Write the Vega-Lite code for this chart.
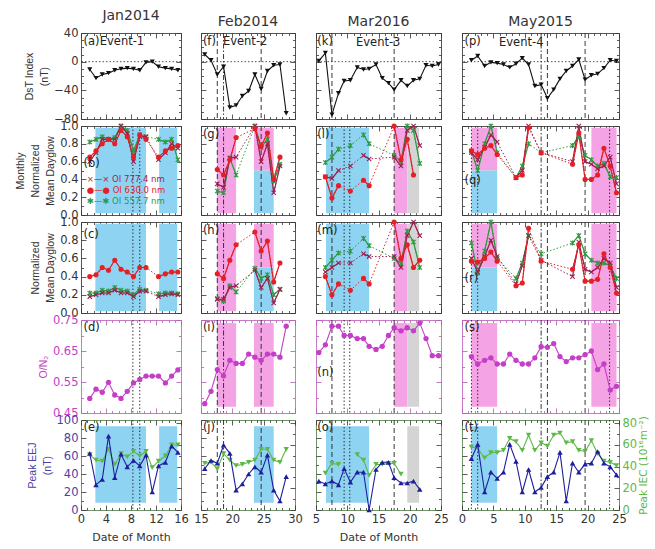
{
  "$schema": "https://vega.github.io/schema/vega-lite/v6.json",
  "background": "white",
  "padding": {"left": 15, "top": 8, "right": 2, "bottom": 5},
  "config": {
    "font": "DejaVu Sans",
    "view": {"stroke": "#555555", "strokeWidth": 1},
    "legend": {"disable": true},
    "scale": {"zero": false},
    "axis": {"domain": false, "grid": false, "labels": false, "tickColor": "#333333", "tickWidth": 0.8, "labelFont": "DejaVu Sans", "labelFontSize": 11.5, "labelColor": "#333333", "labelPadding": 8, "labelFlush": false, "labelOverlap": false, "titleFont": "Liberation Sans", "titleFontSize": 10.5, "titleLineHeight": 15, "titleFontWeight": "normal", "titleColor": "#333333", "titlePadding": 4},
    "title": {"font": "DejaVu Sans", "fontSize": 14, "fontWeight": "normal", "color": "#333333", "anchor": "middle", "frame": "group", "offset": 4},
    "text": {"font": "DejaVu Sans"}
  },
  "spacing": 8,
  "hconcat": [
    {
      "spacing": 4,
      "hconcat": [
        {
          "spacing": 7,
          "bounds": "flush",
          "vconcat": [
            {
              "title": {"text": "Jan2014"},
              "width": 100, "height": 86,
              "data": {"values": [{"day":1.4,"val":-11},{"day":2.4,"val":-23},{"day":3.4,"val":-18},{"day":4.4,"val":-16},{"day":5.4,"val":-12},{"day":6.4,"val":-10},{"day":7.4,"val":-9},{"day":8.4,"val":-10},{"day":9.4,"val":-12},{"day":10.4,"val":-1},{"day":11.4,"val":0},{"day":12.4,"val":-7},{"day":13.5,"val":-9},{"day":14.5,"val":-10},{"day":15.5,"val":-12}]},
              "layer": [
                {"data": {"values": [{"val": 0}]}, "mark": {"type": "rule", "strokeDash": [1.5, 2], "color": "#222222", "strokeWidth": 0.8}, "encoding": {"y": {"field": "val", "type": "quantitative", "axis": null}}},
                {"mark": {"type": "line", "color": "#111111", "strokeWidth": 1.1}, "encoding": {
                  "x": {"field": "day", "type": "quantitative", "scale": {"domain": [0, 16], "nice": false}, "axis": {"orient": "bottom", "values": [0,1,2,3,4,5,6,7,8,9,10,11,12,13,14,15,16], "tickSize": {"condition": {"test": "datum.value % 4 === 0", "value": -5}, "value": -2.5}, "title": null}},
                  "y": {"field": "val", "type": "quantitative", "scale": {"domain": [-80, 40], "nice": false}, "axis": {"orient": "left", "values": [-80,-70,-60,-50,-40,-30,-20,-10,0,10,20,30,40], "tickSize": {"condition": {"test": "datum.value % 40 === 0", "value": -5}, "value": -2.5}, "labels": true, "labelExpr": "datum.value % 40 === 0 ? datum.label : ''", "title": ["DsT Index", "(nT)"]}}}},
                {"mark": {"type": "point", "shape": "triangle-down", "filled": true, "color": "#111111", "size": 26, "opacity": 1}, "encoding": {
                  "x": {"field": "day", "type": "quantitative", "axis": {"orient": "top", "values": [0,1,2,3,4,5,6,7,8,9,10,11,12,13,14,15,16], "tickSize": {"condition": {"test": "datum.value % 4 === 0", "value": -5}, "value": -2.5}, "title": null}},
                  "y": {"field": "val", "type": "quantitative", "axis": {"orient": "right", "values": [-80,-70,-60,-50,-40,-30,-20,-10,0,10,20,30,40], "tickSize": {"condition": {"test": "datum.value % 40 === 0", "value": -5}, "value": -2.5}, "title": null}}}},
                {"data": {"values": [{"day": 0.4, "val": 28, "txt": "(a)"}, {"day": 3.0, "val": 27, "txt": "Event-1"}]}, "mark": {"type": "text", "align": "left", "fontSize": 11.5, "color": "#222222"}, "encoding": {"x": {"field": "day", "type": "quantitative", "axis": null}, "y": {"field": "val", "type": "quantitative", "axis": null}, "text": {"field": "txt"}}}
              ],
              "resolve": {"axis": {"x": "independent", "y": "independent"}}
            },
            {
              "width": 100, "height": 89,
              "data": {"values": [
                {"day":1.4,"val":0.82,"s":"557","g":1},{"day":2.4,"val":0.85,"s":"557","g":1},{"day":3.4,"val":0.88,"s":"557","g":1},{"day":4.4,"val":0.85,"s":"557","g":1},{"day":5.4,"val":0.87,"s":"557","g":1},{"day":6.4,"val":1.0,"s":"557","g":1},{"day":7.4,"val":0.95,"s":"557","g":1},{"day":8.4,"val":0.72,"s":"557","g":1},{"day":9.4,"val":0.9,"s":"557","g":1},{"day":10.4,"val":0.88,"s":"557","g":1},{"day":12.4,"val":0.85,"s":"557","g":2},{"day":13.5,"val":0.82,"s":"557","g":2},{"day":14.5,"val":0.85,"s":"557","g":2},{"day":15.5,"val":0.62,"s":"557","g":2},
                {"day":1.4,"val":0.6,"s":"777","g":1},{"day":2.4,"val":0.7,"s":"777","g":1},{"day":3.4,"val":0.85,"s":"777","g":1},{"day":4.4,"val":0.85,"s":"777","g":1},{"day":5.4,"val":0.85,"s":"777","g":1},{"day":6.4,"val":1.0,"s":"777","g":1},{"day":7.4,"val":0.92,"s":"777","g":1},{"day":8.4,"val":0.6,"s":"777","g":1},{"day":9.4,"val":0.88,"s":"777","g":1},{"day":10.4,"val":0.88,"s":"777","g":1},{"day":12.4,"val":0.62,"s":"777","g":2},{"day":13.5,"val":0.7,"s":"777","g":2},{"day":14.5,"val":0.8,"s":"777","g":2},{"day":15.5,"val":0.75,"s":"777","g":2},
                {"day":1.4,"val":0.65,"s":"630","g":1},{"day":2.4,"val":0.72,"s":"630","g":1},{"day":3.4,"val":0.8,"s":"630","g":1},{"day":4.4,"val":0.85,"s":"630","g":1},{"day":5.4,"val":0.8,"s":"630","g":1},{"day":6.4,"val":0.95,"s":"630","g":1},{"day":7.4,"val":0.88,"s":"630","g":1},{"day":8.4,"val":0.65,"s":"630","g":1},{"day":9.4,"val":0.9,"s":"630","g":1},{"day":10.4,"val":0.85,"s":"630","g":1},{"day":12.4,"val":0.65,"s":"630","g":2},{"day":13.5,"val":0.72,"s":"630","g":2},{"day":14.5,"val":0.75,"s":"630","g":2},{"day":15.5,"val":0.78,"s":"630","g":2}
              ]},
              "layer": [
                {"data": {"values": [{"x0":2.3,"x1":10.4,"y0":0.02,"y1":0.98,"b":"band1"},{"x0":12.5,"x1":15.4,"y0":0.02,"y1":0.98,"b":"band1"}]}, "mark": "rect", "encoding": {"x": {"field": "x0", "type": "quantitative", "axis": null}, "x2": {"field": "x1"}, "y": {"field": "y0", "type": "quantitative", "axis": null}, "y2": {"field": "y1"}, "color": {"field": "b", "type": "nominal", "scale": {"domain": ["777","630","557","band1","band2","band3"], "range": ["#9c1f4f","#e41f26","#2e9a3e","#8fd3f3","#f4a3e4","#d4d4d4"]}}}},
                {"data": {"values": [{"day":8.3,"k":"dot"},{"day":9.4,"k":"dot"}]}, "mark": {"type": "rule", "color": "#222222", "strokeWidth": 0.9}, "encoding": {"x": {"field": "day", "type": "quantitative", "axis": null}, "strokeDash": {"field": "k", "type": "nominal", "scale": {"domain": ["dot","dash","dashdot"], "range": [[1.5,2],[5,3],[5,2,1.5,2]]}}}},
                {"mark": {"type": "line", "strokeDash": [1.5, 2], "strokeWidth": 1}, "encoding": {"x": {"field": "day", "type": "quantitative", "axis": null}, "y": {"field": "val", "type": "quantitative", "axis": null}, "color": {"field": "s", "type": "nominal", "scale": {"domain": ["777","630","557","band1","band2","band3"], "range": ["#9c1f4f","#e41f26","#2e9a3e","#8fd3f3","#f4a3e4","#d4d4d4"]}}}},
                {"mark": {"type": "line", "strokeWidth": 1.2}, "encoding": {
                  "x": {"field": "day", "type": "quantitative", "scale": {"domain": [0, 16], "nice": false}, "axis": {"orient": "bottom", "values": [0,1,2,3,4,5,6,7,8,9,10,11,12,13,14,15,16], "tickSize": {"condition": {"test": "datum.value % 4 === 0", "value": -5}, "value": -2.5}, "title": null}},
                  "y": {"field": "val", "type": "quantitative", "scale": {"domain": [0, 1], "nice": false}, "axis": {"orient": "left", "values": [0,0.1,0.2,0.3,0.4,0.5,0.6,0.7,0.8,0.9,1], "tickSize": {"condition": {"test": "round(datum.value*10) % 2 === 0", "value": -5}, "value": -2.5}, "labels": true, "labelExpr": "round(datum.value*10) % 2 === 0 ? format(datum.value, '.1f') : ''", "title": ["Monthly", "Normalized", "Mean Dayglow"]}},
                  "color": {"field": "s", "type": "nominal", "scale": {"domain": ["777","630","557","band1","band2","band3"], "range": ["#9c1f4f","#e41f26","#2e9a3e","#8fd3f3","#f4a3e4","#d4d4d4"]}},
                  "detail": {"field": "g", "type": "nominal"}}},
                {"mark": {"type": "point", "filled": true, "size": 26, "opacity": 1}, "encoding": {
                  "x": {"field": "day", "type": "quantitative", "axis": {"orient": "top", "values": [0,1,2,3,4,5,6,7,8,9,10,11,12,13,14,15,16], "tickSize": {"condition": {"test": "datum.value % 4 === 0", "value": -5}, "value": -2.5}, "title": null}},
                  "y": {"field": "val", "type": "quantitative", "axis": {"orient": "right", "values": [0,0.1,0.2,0.3,0.4,0.5,0.6,0.7,0.8,0.9,1], "tickSize": {"condition": {"test": "round(datum.value*10) % 2 === 0", "value": -5}, "value": -2.5}, "title": null}},
                  "color": {"field": "s", "type": "nominal", "scale": {"domain": ["777","630","557","band1","band2","band3"], "range": ["#9c1f4f","#e41f26","#2e9a3e","#8fd3f3","#f4a3e4","#d4d4d4"]}},
                  "shape": {"field": "s", "type": "nominal", "scale": {"domain": ["777","630","557"], "range": ["M-1,-0.7L-0.7,-1L0,-0.3L0.7,-1L1,-0.7L0.3,0L1,0.7L0.7,1L0,0.3L-0.7,1L-1,0.7L-0.3,0Z", "circle", "M-1,-0.7L-0.7,-1L0,-0.3L0.7,-1L1,-0.7L0.3,0L1,0.7L0.7,1L0,0.3L-0.7,1L-1,0.7L-0.3,0Z M-0.22,-1L0.22,-1L0.22,1L-0.22,1Z"]}}}},
                {"data": {"values": [{"day": 0.4, "val": 0.57, "txt": "(b)"}]}, "mark": {"type": "text", "align": "left", "fontSize": 11.5, "color": "#222222"}, "encoding": {"x": {"field": "day", "type": "quantitative", "axis": null}, "y": {"field": "val", "type": "quantitative", "axis": null}, "text": {"field": "txt"}}},
                {"data": {"values": [{"day": 0.9, "val": 0.4, "s": "777", "txt": "×—× OI 777.4  nm"}, {"day": 0.9, "val": 0.28, "s": "630", "txt": "●—● OI 630.0  nm"}, {"day": 0.9, "val": 0.16, "s": "557", "txt": "✱—✱ OI 557.7  nm"}]}, "mark": {"type": "text", "align": "left", "fontSize": 8.5}, "encoding": {"x": {"field": "day", "type": "quantitative", "axis": null}, "y": {"field": "val", "type": "quantitative", "axis": null}, "text": {"field": "txt"}, "color": {"field": "s", "type": "nominal", "scale": {"domain": ["777","630","557","band1","band2","band3"], "range": ["#9c1f4f","#e41f26","#2e9a3e","#8fd3f3","#f4a3e4","#d4d4d4"]}}}}
              ],
              "resolve": {"axis": {"x": "independent", "y": "independent"}}
            },
            {
              "width": 100, "height": 91,
              "data": {"values": [
                {"day":1.4,"val":0.22,"s":"557","g":1},{"day":2.4,"val":0.22,"s":"557","g":1},{"day":3.4,"val":0.25,"s":"557","g":1},{"day":4.4,"val":0.24,"s":"557","g":1},{"day":5.4,"val":0.28,"s":"557","g":1},{"day":6.4,"val":0.25,"s":"557","g":1},{"day":7.4,"val":0.24,"s":"557","g":1},{"day":8.4,"val":0.2,"s":"557","g":1},{"day":9.4,"val":0.26,"s":"557","g":1},{"day":10.4,"val":0.25,"s":"557","g":1},{"day":12.4,"val":0.21,"s":"557","g":2},{"day":13.5,"val":0.22,"s":"557","g":2},{"day":14.5,"val":0.22,"s":"557","g":2},{"day":15.5,"val":0.21,"s":"557","g":2},
                {"day":1.4,"val":0.18,"s":"777","g":1},{"day":2.4,"val":0.2,"s":"777","g":1},{"day":3.4,"val":0.22,"s":"777","g":1},{"day":4.4,"val":0.22,"s":"777","g":1},{"day":5.4,"val":0.25,"s":"777","g":1},{"day":6.4,"val":0.22,"s":"777","g":1},{"day":7.4,"val":0.22,"s":"777","g":1},{"day":8.4,"val":0.18,"s":"777","g":1},{"day":9.4,"val":0.24,"s":"777","g":1},{"day":10.4,"val":0.24,"s":"777","g":1},{"day":12.4,"val":0.18,"s":"777","g":2},{"day":13.5,"val":0.2,"s":"777","g":2},{"day":14.5,"val":0.21,"s":"777","g":2},{"day":15.5,"val":0.2,"s":"777","g":2},
                {"day":1.4,"val":0.4,"s":"630","g":1},{"day":2.4,"val":0.42,"s":"630","g":1},{"day":3.4,"val":0.5,"s":"630","g":1},{"day":4.4,"val":0.47,"s":"630","g":1},{"day":5.4,"val":0.58,"s":"630","g":1},{"day":6.4,"val":0.48,"s":"630","g":1},{"day":7.4,"val":0.45,"s":"630","g":1},{"day":8.4,"val":0.4,"s":"630","g":1},{"day":9.4,"val":0.5,"s":"630","g":1},{"day":10.4,"val":0.5,"s":"630","g":1},{"day":12.4,"val":0.4,"s":"630","g":2},{"day":13.5,"val":0.43,"s":"630","g":2},{"day":14.5,"val":0.45,"s":"630","g":2},{"day":15.5,"val":0.45,"s":"630","g":2}
              ]},
              "layer": [
                {"data": {"values": [{"x0":2.3,"x1":10.4,"y0":0.02,"y1":0.98,"b":"band1"},{"x0":12.5,"x1":15.4,"y0":0.02,"y1":0.98,"b":"band1"}]}, "mark": "rect", "encoding": {"x": {"field": "x0", "type": "quantitative", "axis": null}, "x2": {"field": "x1"}, "y": {"field": "y0", "type": "quantitative", "axis": null}, "y2": {"field": "y1"}, "color": {"field": "b", "type": "nominal", "scale": {"domain": ["777","630","557","band1","band2","band3"], "range": ["#9c1f4f","#e41f26","#2e9a3e","#8fd3f3","#f4a3e4","#d4d4d4"]}}}},
                {"data": {"values": [{"day":8.3,"k":"dot"},{"day":9.4,"k":"dot"}]}, "mark": {"type": "rule", "color": "#222222", "strokeWidth": 0.9}, "encoding": {"x": {"field": "day", "type": "quantitative", "axis": null}, "strokeDash": {"field": "k", "type": "nominal", "scale": {"domain": ["dot","dash","dashdot"], "range": [[1.5,2],[5,3],[5,2,1.5,2]]}}}},
                {"mark": {"type": "line", "strokeDash": [1.5, 2], "strokeWidth": 1}, "encoding": {"x": {"field": "day", "type": "quantitative", "axis": null}, "y": {"field": "val", "type": "quantitative", "axis": null}, "color": {"field": "s", "type": "nominal", "scale": {"domain": ["777","630","557","band1","band2","band3"], "range": ["#9c1f4f","#e41f26","#2e9a3e","#8fd3f3","#f4a3e4","#d4d4d4"]}}}},
                {"mark": {"type": "line", "strokeWidth": 1.2}, "encoding": {
                  "x": {"field": "day", "type": "quantitative", "scale": {"domain": [0, 16], "nice": false}, "axis": {"orient": "bottom", "values": [0,1,2,3,4,5,6,7,8,9,10,11,12,13,14,15,16], "tickSize": {"condition": {"test": "datum.value % 4 === 0", "value": -5}, "value": -2.5}, "title": null}},
                  "y": {"field": "val", "type": "quantitative", "scale": {"domain": [0, 1], "nice": false}, "axis": {"orient": "left", "values": [0,0.1,0.2,0.3,0.4,0.5,0.6,0.7,0.8,0.9,1], "tickSize": {"condition": {"test": "round(datum.value*10) % 2 === 0", "value": -5}, "value": -2.5}, "labels": true, "labelExpr": "round(datum.value*10) % 2 === 0 ? format(datum.value, '.1f') : ''", "title": ["Normalized", "Mean Dayglow"]}},
                  "color": {"field": "s", "type": "nominal", "scale": {"domain": ["777","630","557","band1","band2","band3"], "range": ["#9c1f4f","#e41f26","#2e9a3e","#8fd3f3","#f4a3e4","#d4d4d4"]}},
                  "detail": {"field": "g", "type": "nominal"}}},
                {"mark": {"type": "point", "filled": true, "size": 26, "opacity": 1}, "encoding": {
                  "x": {"field": "day", "type": "quantitative", "axis": {"orient": "top", "values": [0,1,2,3,4,5,6,7,8,9,10,11,12,13,14,15,16], "tickSize": {"condition": {"test": "datum.value % 4 === 0", "value": -5}, "value": -2.5}, "title": null}},
                  "y": {"field": "val", "type": "quantitative", "axis": {"orient": "right", "values": [0,0.1,0.2,0.3,0.4,0.5,0.6,0.7,0.8,0.9,1], "tickSize": {"condition": {"test": "round(datum.value*10) % 2 === 0", "value": -5}, "value": -2.5}, "title": null}},
                  "color": {"field": "s", "type": "nominal", "scale": {"domain": ["777","630","557","band1","band2","band3"], "range": ["#9c1f4f","#e41f26","#2e9a3e","#8fd3f3","#f4a3e4","#d4d4d4"]}},
                  "shape": {"field": "s", "type": "nominal", "scale": {"domain": ["777","630","557"], "range": ["M-1,-0.7L-0.7,-1L0,-0.3L0.7,-1L1,-0.7L0.3,0L1,0.7L0.7,1L0,0.3L-0.7,1L-1,0.7L-0.3,0Z", "circle", "M-1,-0.7L-0.7,-1L0,-0.3L0.7,-1L1,-0.7L0.3,0L1,0.7L0.7,1L0,0.3L-0.7,1L-1,0.7L-0.3,0Z M-0.22,-1L0.22,-1L0.22,1L-0.22,1Z"]}}}},
                {"data": {"values": [{"day": 0.4, "val": 0.86, "txt": "(c)"}]}, "mark": {"type": "text", "align": "left", "fontSize": 11.5, "color": "#222222"}, "encoding": {"x": {"field": "day", "type": "quantitative", "axis": null}, "y": {"field": "val", "type": "quantitative", "axis": null}, "text": {"field": "txt"}}}
              ],
              "resolve": {"axis": {"x": "independent", "y": "independent"}}
            },
            {
              "width": 100, "height": 93, "view": {"stroke": "#c77bc7"},
              "data": {"values": [{"day":1.4,"val":0.497},{"day":2.4,"val":0.527},{"day":3.4,"val":0.517},{"day":4.4,"val":0.549},{"day":5.4,"val":0.508},{"day":6.4,"val":0.497},{"day":7.4,"val":0.52},{"day":8.4,"val":0.547},{"day":9.4,"val":0.558},{"day":10.4,"val":0.569},{"day":11.4,"val":0.569},{"day":12.4,"val":0.569},{"day":13.5,"val":0.547},{"day":14.5,"val":0.569},{"day":15.5,"val":0.589}]},
              "layer": [
                {"data": {"values": [{"day":8.3,"k":"dot"},{"day":9.4,"k":"dot"}]}, "mark": {"type": "rule", "color": "#222222", "strokeWidth": 0.9}, "encoding": {"x": {"field": "day", "type": "quantitative", "axis": null}, "strokeDash": {"field": "k", "type": "nominal", "scale": {"domain": ["dot","dash","dashdot"], "range": [[1.5,2],[5,3],[5,2,1.5,2]]}}}},
                {"mark": {"type": "line", "color": "#c43ec8", "strokeWidth": 1.1}, "encoding": {
                  "x": {"field": "day", "type": "quantitative", "scale": {"domain": [0, 16], "nice": false}, "axis": {"orient": "bottom", "values": [0,1,2,3,4,5,6,7,8,9,10,11,12,13,14,15,16], "tickSize": {"condition": {"test": "datum.value % 4 === 0", "value": -5}, "value": -2.5}, "tickColor": "#b45ab4", "title": null}},
                  "y": {"field": "val", "type": "quantitative", "scale": {"domain": [0.45, 0.75], "nice": false}, "axis": {"orient": "left", "values": [0.45,0.5,0.55,0.6,0.65,0.7,0.75], "tickSize": {"condition": {"test": "round(datum.value*100) % 10 === 5", "value": -5}, "value": -2.5}, "labels": true, "labelExpr": "round(datum.value*100) % 10 === 5 ? format(datum.value, '.2f') : ''", "labelColor": "#c43ec8", "titleColor": "#c43ec8", "tickColor": "#b45ab4", "title": "O/N₂"}}}},
                {"mark": {"type": "point", "shape": "circle", "filled": true, "color": "#c43ec8", "size": 28, "opacity": 1}, "encoding": {
                  "x": {"field": "day", "type": "quantitative", "axis": {"orient": "top", "values": [0,1,2,3,4,5,6,7,8,9,10,11,12,13,14,15,16], "tickSize": {"condition": {"test": "datum.value % 4 === 0", "value": -5}, "value": -2.5}, "tickColor": "#b45ab4", "title": null}},
                  "y": {"field": "val", "type": "quantitative", "axis": {"orient": "right", "values": [0.45,0.5,0.55,0.6,0.65,0.7,0.75], "tickSize": {"condition": {"test": "round(datum.value*100) % 10 === 5", "value": -5}, "value": -2.5}, "tickColor": "#b45ab4", "title": null}}}},
                {"data": {"values": [{"day": 0.4, "val": 0.725, "txt": "(d)"}]}, "mark": {"type": "text", "align": "left", "fontSize": 11.5, "color": "#222222"}, "encoding": {"x": {"field": "day", "type": "quantitative", "axis": null}, "y": {"field": "val", "type": "quantitative", "axis": null}, "text": {"field": "txt"}}}
              ],
              "resolve": {"axis": {"x": "independent", "y": "independent"}}
            },
            {
              "width": 100, "height": 90, "view": {"stroke": "#6f9468"},
              "layer": [
                {"data": {"values": [{"x0":2.3,"x1":10.4,"y0":8,"y1":93,"b":"band1"},{"x0":12.5,"x1":15.4,"y0":8,"y1":93,"b":"band1"}]}, "mark": "rect", "encoding": {"x": {"field": "x0", "type": "quantitative", "axis": null}, "x2": {"field": "x1"}, "y": {"field": "y0", "type": "quantitative", "scale": {"domain": [0, 100], "nice": false}, "axis": null}, "y2": {"field": "y1"}, "color": {"field": "b", "type": "nominal", "scale": {"domain": ["777","630","557","band1","band2","band3"], "range": ["#9c1f4f","#e41f26","#2e9a3e","#8fd3f3","#f4a3e4","#d4d4d4"]}}}},
                {"data": {"values": [{"day":8.3,"k":"dot"},{"day":9.4,"k":"dot"}]}, "mark": {"type": "rule", "color": "#222222", "strokeWidth": 0.9}, "encoding": {"x": {"field": "day", "type": "quantitative", "axis": null}, "strokeDash": {"field": "k", "type": "nominal", "scale": {"domain": ["dot","dash","dashdot"], "range": [[1.5,2],[5,3],[5,2,1.5,2]]}}}},
                {"data": {"values": [{"day":1.4,"val":51,"g":1},{"day":2.4,"val":46,"g":1},{"day":3.4,"val":45,"g":1},{"day":4.4,"val":56,"g":1},{"day":5.4,"val":42,"g":1},{"day":6.4,"val":52,"g":1},{"day":7.4,"val":49,"g":1},{"day":8.4,"val":54,"g":1},{"day":9.4,"val":50,"g":1},{"day":10.4,"val":54,"g":1},{"day":11.4,"val":39,"g":1},{"day":12.4,"val":45,"g":1},{"day":13.5,"val":50,"g":1},{"day":14.5,"val":60,"g":1},{"day":15.5,"val":60,"g":1}]}, "mark": {"type": "line", "color": "#5db946", "strokeWidth": 1.1}, "encoding": {"x": {"field": "day", "type": "quantitative", "axis": null}, "y": {"field": "val", "type": "quantitative", "scale": {"domain": [0, 83], "nice": false}, "axis": null}, "detail": {"field": "g", "type": "nominal"}}},
                {"data": {"values": [{"day":1.4,"val":51,"g":1},{"day":2.4,"val":46,"g":1},{"day":3.4,"val":45,"g":1},{"day":4.4,"val":56,"g":1},{"day":5.4,"val":42,"g":1},{"day":6.4,"val":52,"g":1},{"day":7.4,"val":49,"g":1},{"day":8.4,"val":54,"g":1},{"day":9.4,"val":50,"g":1},{"day":10.4,"val":54,"g":1},{"day":11.4,"val":39,"g":1},{"day":12.4,"val":45,"g":1},{"day":13.5,"val":50,"g":1},{"day":14.5,"val":60,"g":1},{"day":15.5,"val":60,"g":1}]}, "mark": {"type": "point", "shape": "triangle-down", "filled": true, "color": "#5db946", "size": 30, "opacity": 1}, "encoding": {
                  "x": {"field": "day", "type": "quantitative", "axis": {"orient": "top", "values": [0,1,2,3,4,5,6,7,8,9,10,11,12,13,14,15,16], "tickSize": {"condition": {"test": "datum.value % 4 === 0", "value": -5}, "value": -2.5}, "title": null}},
                  "y": {"field": "val", "type": "quantitative", "scale": {"domain": [0, 83], "nice": false}, "axis": {"orient": "right", "values": [0,10,20,30,40,50,60,70,80], "tickSize": {"condition": {"test": "datum.value % 20 === 0", "value": -5}, "value": -2.5}, "title": null}}}},
                {"data": {"values": [{"day":1.4,"val":63},{"day":2.4,"val":28},{"day":3.4,"val":34},{"day":4.4,"val":82},{"day":5.4,"val":36},{"day":6.4,"val":62},{"day":7.4,"val":48},{"day":8.4,"val":55},{"day":9.4,"val":49},{"day":10.4,"val":61},{"day":11.4,"val":20},{"day":12.4,"val":49},{"day":13.5,"val":53},{"day":14.5,"val":71},{"day":15.5,"val":64}]}, "mark": {"type": "line", "color": "#1f1f9e", "strokeWidth": 1.1}, "encoding": {
                  "x": {"field": "day", "type": "quantitative", "scale": {"domain": [0, 16], "nice": false}, "axis": {"orient": "bottom", "values": [0,1,2,3,4,5,6,7,8,9,10,11,12,13,14,15,16], "tickSize": {"condition": {"test": "datum.value % 4 === 0", "value": -5}, "value": -2.5}, "labels": true, "labelExpr": "datum.value % 4 === 0 ? datum.label : ''", "title": "Date of Month", "titleFont": "DejaVu Sans", "titleFontSize": 11}},
                  "y": {"field": "val", "type": "quantitative", "scale": {"domain": [0, 100], "nice": false}, "axis": {"orient": "left", "values": [0,10,20,30,40,50,60,70,80,90,100], "tickSize": {"condition": {"test": "datum.value % 20 === 0", "value": -5}, "value": -2.5}, "labels": true, "labelExpr": "datum.value % 20 === 0 ? datum.label : ''", "labelColor": "#4b3fa8", "titleColor": "#4b3fa8", "title": ["Peak EEJ", "(nT)"]}}}},
                {"data": {"values": [{"day":1.4,"val":63},{"day":2.4,"val":28},{"day":3.4,"val":34},{"day":4.4,"val":82},{"day":5.4,"val":36},{"day":6.4,"val":62},{"day":7.4,"val":48},{"day":8.4,"val":55},{"day":9.4,"val":49},{"day":10.4,"val":61},{"day":11.4,"val":20},{"day":12.4,"val":49},{"day":13.5,"val":53},{"day":14.5,"val":71},{"day":15.5,"val":64}]}, "mark": {"type": "point", "shape": "triangle-up", "filled": true, "color": "#1f1f9e", "size": 30, "opacity": 1}, "encoding": {"x": {"field": "day", "type": "quantitative", "axis": null}, "y": {"field": "val", "type": "quantitative", "scale": {"domain": [0, 100], "nice": false}, "axis": null}}},
                {"data": {"values": [{"day": 0.4, "val": 91, "txt": "(e)"}]}, "mark": {"type": "text", "align": "left", "fontSize": 11.5, "color": "#222222"}, "encoding": {"x": {"field": "day", "type": "quantitative", "axis": null}, "y": {"field": "val", "type": "quantitative", "scale": {"domain": [0, 100], "nice": false}, "axis": null}, "text": {"field": "txt"}}}
              ],
              "resolve": {"scale": {"y": "independent"}, "axis": {"x": "independent", "y": "independent"}}
            }
          ]
        },
        {
          "spacing": 7,
          "bounds": "flush",
          "vconcat": [
            {
              "title": {"text": "Feb2014"},
              "width": 94, "height": 86,
              "data": {"values": [{"day":15.6,"val":10},{"day":16.6,"val":2},{"day":17.6,"val":-18},{"day":18.6,"val":-7},{"day":19.6,"val":-64},{"day":20.6,"val":-61},{"day":21.6,"val":-48},{"day":22.6,"val":-41},{"day":23.6,"val":-18},{"day":24.6,"val":-38},{"day":25.6,"val":-13},{"day":26.6,"val":-5},{"day":27.6,"val":-4},{"day":28.6,"val":-72}]},
              "layer": [
                {"data": {"values": [{"day":17.6,"k":"dash"},{"day":18.6,"k":"dashdot"},{"day":24.6,"k":"dash"}]}, "mark": {"type": "rule", "color": "#222222", "strokeWidth": 0.9}, "encoding": {"x": {"field": "day", "type": "quantitative", "axis": null}, "strokeDash": {"field": "k", "type": "nominal", "scale": {"domain": ["dot","dash","dashdot"], "range": [[1.5,2],[5,3],[5,2,1.5,2]]}}}},
                {"data": {"values": [{"val": 0}]}, "mark": {"type": "rule", "strokeDash": [1.5, 2], "color": "#222222", "strokeWidth": 0.8}, "encoding": {"y": {"field": "val", "type": "quantitative", "axis": null}}},
                {"mark": {"type": "line", "color": "#111111", "strokeWidth": 1.1}, "encoding": {
                  "x": {"field": "day", "type": "quantitative", "scale": {"domain": [15, 30], "nice": false}, "axis": {"orient": "bottom", "values": [15,16,17,18,19,20,21,22,23,24,25,26,27,28,29,30], "tickSize": {"condition": {"test": "datum.value % 5 === 0", "value": -5}, "value": -2.5}, "title": null}},
                  "y": {"field": "val", "type": "quantitative", "scale": {"domain": [-80, 40], "nice": false}, "axis": {"orient": "left", "values": [-80,-70,-60,-50,-40,-30,-20,-10,0,10,20,30,40], "tickSize": {"condition": {"test": "datum.value % 40 === 0", "value": -5}, "value": -2.5}, "title": null}}}},
                {"mark": {"type": "point", "shape": "triangle-down", "filled": true, "color": "#111111", "size": 26, "opacity": 1}, "encoding": {
                  "x": {"field": "day", "type": "quantitative", "axis": {"orient": "top", "values": [15,16,17,18,19,20,21,22,23,24,25,26,27,28,29,30], "tickSize": {"condition": {"test": "datum.value % 5 === 0", "value": -5}, "value": -2.5}, "title": null}},
                  "y": {"field": "val", "type": "quantitative", "axis": {"orient": "right", "values": [-80,-70,-60,-50,-40,-30,-20,-10,0,10,20,30,40], "tickSize": {"condition": {"test": "datum.value % 40 === 0", "value": -5}, "value": -2.5}, "title": null}}}},
                {"data": {"values": [{"day": 15.3, "val": 28, "txt": "(f)"}, {"day": 18.5, "val": 27, "txt": "Event-2"}]}, "mark": {"type": "text", "align": "left", "fontSize": 11.5, "color": "#222222"}, "encoding": {"x": {"field": "day", "type": "quantitative", "axis": null}, "y": {"field": "val", "type": "quantitative", "axis": null}, "text": {"field": "txt"}}}
              ],
              "resolve": {"axis": {"x": "independent", "y": "independent"}}
            },
            {
              "width": 94, "height": 89,
              "data": {"values": [
                {"day":17.6,"val":0.27,"s":"557","g":1},{"day":18.6,"val":0.25,"s":"557","g":1},{"day":19.6,"val":0.64,"s":"557","g":1},{"day":20.6,"val":0.45,"s":"557","g":1},{"day":23.6,"val":1.0,"s":"557","g":2},{"day":24.6,"val":0.76,"s":"557","g":2},{"day":25.6,"val":0.85,"s":"557","g":2},{"day":26.6,"val":0.38,"s":"557","g":2},{"day":27.6,"val":0.57,"s":"557","g":2},
                {"day":17.6,"val":0.35,"s":"777","g":1},{"day":18.6,"val":0.31,"s":"777","g":1},{"day":19.6,"val":0.64,"s":"777","g":1},{"day":20.6,"val":0.65,"s":"777","g":1},{"day":23.6,"val":1.0,"s":"777","g":2},{"day":24.6,"val":0.6,"s":"777","g":2},{"day":25.6,"val":0.8,"s":"777","g":2},{"day":26.6,"val":0.25,"s":"777","g":2},{"day":27.6,"val":0.55,"s":"777","g":2},
                {"day":17.6,"val":0.51,"s":"630","g":1},{"day":18.6,"val":0.45,"s":"630","g":1},{"day":19.6,"val":0.62,"s":"630","g":1},{"day":20.6,"val":0.87,"s":"630","g":1},{"day":23.6,"val":0.97,"s":"630","g":2},{"day":24.6,"val":0.77,"s":"630","g":2},{"day":25.6,"val":0.92,"s":"630","g":2},{"day":26.6,"val":0.4,"s":"630","g":2},{"day":27.6,"val":0.65,"s":"630","g":2}
              ]},
              "layer": [
                {"data": {"values": [{"x0":17.55,"x1":20.6,"y0":0.02,"y1":0.98,"b":"band2"},{"x0":23.45,"x1":26.6,"y0":0.5,"y1":0.98,"b":"band2"},{"x0":23.45,"x1":26.6,"y0":0.02,"y1":0.5,"b":"band1"}]}, "mark": "rect", "encoding": {"x": {"field": "x0", "type": "quantitative", "axis": null}, "x2": {"field": "x1"}, "y": {"field": "y0", "type": "quantitative", "axis": null}, "y2": {"field": "y1"}, "color": {"field": "b", "type": "nominal", "scale": {"domain": ["777","630","557","band1","band2","band3"], "range": ["#9c1f4f","#e41f26","#2e9a3e","#8fd3f3","#f4a3e4","#d4d4d4"]}}}},
                {"data": {"values": [{"day":17.6,"k":"dash"},{"day":18.6,"k":"dashdot"},{"day":24.6,"k":"dash"}]}, "mark": {"type": "rule", "color": "#222222", "strokeWidth": 0.9}, "encoding": {"x": {"field": "day", "type": "quantitative", "axis": null}, "strokeDash": {"field": "k", "type": "nominal", "scale": {"domain": ["dot","dash","dashdot"], "range": [[1.5,2],[5,3],[5,2,1.5,2]]}}}},
                {"mark": {"type": "line", "strokeDash": [1.5, 2], "strokeWidth": 1}, "encoding": {"x": {"field": "day", "type": "quantitative", "axis": null}, "y": {"field": "val", "type": "quantitative", "axis": null}, "color": {"field": "s", "type": "nominal", "scale": {"domain": ["777","630","557","band1","band2","band3"], "range": ["#9c1f4f","#e41f26","#2e9a3e","#8fd3f3","#f4a3e4","#d4d4d4"]}}}},
                {"mark": {"type": "line", "strokeWidth": 1.2}, "encoding": {
                  "x": {"field": "day", "type": "quantitative", "scale": {"domain": [15, 30], "nice": false}, "axis": {"orient": "bottom", "values": [15,16,17,18,19,20,21,22,23,24,25,26,27,28,29,30], "tickSize": {"condition": {"test": "datum.value % 5 === 0", "value": -5}, "value": -2.5}, "title": null}},
                  "y": {"field": "val", "type": "quantitative", "scale": {"domain": [0, 1], "nice": false}, "axis": {"orient": "left", "values": [0,0.1,0.2,0.3,0.4,0.5,0.6,0.7,0.8,0.9,1], "tickSize": {"condition": {"test": "round(datum.value*10) % 2 === 0", "value": -5}, "value": -2.5}, "title": null}},
                  "color": {"field": "s", "type": "nominal", "scale": {"domain": ["777","630","557","band1","band2","band3"], "range": ["#9c1f4f","#e41f26","#2e9a3e","#8fd3f3","#f4a3e4","#d4d4d4"]}},
                  "detail": {"field": "g", "type": "nominal"}}},
                {"mark": {"type": "point", "filled": true, "size": 26, "opacity": 1}, "encoding": {
                  "x": {"field": "day", "type": "quantitative", "axis": {"orient": "top", "values": [15,16,17,18,19,20,21,22,23,24,25,26,27,28,29,30], "tickSize": {"condition": {"test": "datum.value % 5 === 0", "value": -5}, "value": -2.5}, "title": null}},
                  "y": {"field": "val", "type": "quantitative", "axis": {"orient": "right", "values": [0,0.1,0.2,0.3,0.4,0.5,0.6,0.7,0.8,0.9,1], "tickSize": {"condition": {"test": "round(datum.value*10) % 2 === 0", "value": -5}, "value": -2.5}, "title": null}},
                  "color": {"field": "s", "type": "nominal", "scale": {"domain": ["777","630","557","band1","band2","band3"], "range": ["#9c1f4f","#e41f26","#2e9a3e","#8fd3f3","#f4a3e4","#d4d4d4"]}},
                  "shape": {"field": "s", "type": "nominal", "scale": {"domain": ["777","630","557"], "range": ["M-1,-0.7L-0.7,-1L0,-0.3L0.7,-1L1,-0.7L0.3,0L1,0.7L0.7,1L0,0.3L-0.7,1L-1,0.7L-0.3,0Z", "circle", "M-1,-0.7L-0.7,-1L0,-0.3L0.7,-1L1,-0.7L0.3,0L1,0.7L0.7,1L0,0.3L-0.7,1L-1,0.7L-0.3,0Z M-0.22,-1L0.22,-1L0.22,1L-0.22,1Z"]}}}},
                {"data": {"values": [{"day": 15.3, "val": 0.9, "txt": "(g)"}]}, "mark": {"type": "text", "align": "left", "fontSize": 11.5, "color": "#222222"}, "encoding": {"x": {"field": "day", "type": "quantitative", "axis": null}, "y": {"field": "val", "type": "quantitative", "axis": null}, "text": {"field": "txt"}}}
              ],
              "resolve": {"axis": {"x": "independent", "y": "independent"}}
            },
            {
              "width": 94, "height": 91,
              "data": {"values": [
                {"day":17.6,"val":0.16,"s":"557","g":1},{"day":18.6,"val":0.13,"s":"557","g":1},{"day":19.6,"val":0.3,"s":"557","g":1},{"day":20.6,"val":0.23,"s":"557","g":1},{"day":23.6,"val":0.49,"s":"557","g":2},{"day":24.6,"val":0.38,"s":"557","g":2},{"day":25.6,"val":0.42,"s":"557","g":2},{"day":26.6,"val":0.2,"s":"557","g":2},{"day":27.6,"val":0.26,"s":"557","g":2},
                {"day":17.6,"val":0.15,"s":"777","g":1},{"day":18.6,"val":0.15,"s":"777","g":1},{"day":19.6,"val":0.28,"s":"777","g":1},{"day":20.6,"val":0.3,"s":"777","g":1},{"day":23.6,"val":0.47,"s":"777","g":2},{"day":24.6,"val":0.28,"s":"777","g":2},{"day":25.6,"val":0.38,"s":"777","g":2},{"day":26.6,"val":0.11,"s":"777","g":2},{"day":27.6,"val":0.26,"s":"777","g":2},
                {"day":17.6,"val":0.43,"s":"630","g":1},{"day":18.6,"val":0.38,"s":"630","g":1},{"day":19.6,"val":0.58,"s":"630","g":1},{"day":20.6,"val":0.75,"s":"630","g":1},{"day":23.6,"val":0.89,"s":"630","g":2},{"day":24.6,"val":0.68,"s":"630","g":2},{"day":25.6,"val":0.79,"s":"630","g":2},{"day":26.6,"val":0.34,"s":"630","g":2},{"day":27.6,"val":0.55,"s":"630","g":2}
              ]},
              "layer": [
                {"data": {"values": [{"x0":17.55,"x1":20.6,"y0":0.02,"y1":0.98,"b":"band2"},{"x0":23.45,"x1":26.6,"y0":0.5,"y1":0.98,"b":"band2"},{"x0":23.45,"x1":26.6,"y0":0.02,"y1":0.5,"b":"band1"}]}, "mark": "rect", "encoding": {"x": {"field": "x0", "type": "quantitative", "axis": null}, "x2": {"field": "x1"}, "y": {"field": "y0", "type": "quantitative", "axis": null}, "y2": {"field": "y1"}, "color": {"field": "b", "type": "nominal", "scale": {"domain": ["777","630","557","band1","band2","band3"], "range": ["#9c1f4f","#e41f26","#2e9a3e","#8fd3f3","#f4a3e4","#d4d4d4"]}}}},
                {"data": {"values": [{"day":17.6,"k":"dash"},{"day":18.6,"k":"dashdot"},{"day":24.6,"k":"dash"}]}, "mark": {"type": "rule", "color": "#222222", "strokeWidth": 0.9}, "encoding": {"x": {"field": "day", "type": "quantitative", "axis": null}, "strokeDash": {"field": "k", "type": "nominal", "scale": {"domain": ["dot","dash","dashdot"], "range": [[1.5,2],[5,3],[5,2,1.5,2]]}}}},
                {"mark": {"type": "line", "strokeDash": [1.5, 2], "strokeWidth": 1}, "encoding": {"x": {"field": "day", "type": "quantitative", "axis": null}, "y": {"field": "val", "type": "quantitative", "axis": null}, "color": {"field": "s", "type": "nominal", "scale": {"domain": ["777","630","557","band1","band2","band3"], "range": ["#9c1f4f","#e41f26","#2e9a3e","#8fd3f3","#f4a3e4","#d4d4d4"]}}}},
                {"mark": {"type": "line", "strokeWidth": 1.2}, "encoding": {
                  "x": {"field": "day", "type": "quantitative", "scale": {"domain": [15, 30], "nice": false}, "axis": {"orient": "bottom", "values": [15,16,17,18,19,20,21,22,23,24,25,26,27,28,29,30], "tickSize": {"condition": {"test": "datum.value % 5 === 0", "value": -5}, "value": -2.5}, "title": null}},
                  "y": {"field": "val", "type": "quantitative", "scale": {"domain": [0, 1], "nice": false}, "axis": {"orient": "left", "values": [0,0.1,0.2,0.3,0.4,0.5,0.6,0.7,0.8,0.9,1], "tickSize": {"condition": {"test": "round(datum.value*10) % 2 === 0", "value": -5}, "value": -2.5}, "title": null}},
                  "color": {"field": "s", "type": "nominal", "scale": {"domain": ["777","630","557","band1","band2","band3"], "range": ["#9c1f4f","#e41f26","#2e9a3e","#8fd3f3","#f4a3e4","#d4d4d4"]}},
                  "detail": {"field": "g", "type": "nominal"}}},
                {"mark": {"type": "point", "filled": true, "size": 26, "opacity": 1}, "encoding": {
                  "x": {"field": "day", "type": "quantitative", "axis": {"orient": "top", "values": [15,16,17,18,19,20,21,22,23,24,25,26,27,28,29,30], "tickSize": {"condition": {"test": "datum.value % 5 === 0", "value": -5}, "value": -2.5}, "title": null}},
                  "y": {"field": "val", "type": "quantitative", "axis": {"orient": "right", "values": [0,0.1,0.2,0.3,0.4,0.5,0.6,0.7,0.8,0.9,1], "tickSize": {"condition": {"test": "round(datum.value*10) % 2 === 0", "value": -5}, "value": -2.5}, "title": null}},
                  "color": {"field": "s", "type": "nominal", "scale": {"domain": ["777","630","557","band1","band2","band3"], "range": ["#9c1f4f","#e41f26","#2e9a3e","#8fd3f3","#f4a3e4","#d4d4d4"]}},
                  "shape": {"field": "s", "type": "nominal", "scale": {"domain": ["777","630","557"], "range": ["M-1,-0.7L-0.7,-1L0,-0.3L0.7,-1L1,-0.7L0.3,0L1,0.7L0.7,1L0,0.3L-0.7,1L-1,0.7L-0.3,0Z", "circle", "M-1,-0.7L-0.7,-1L0,-0.3L0.7,-1L1,-0.7L0.3,0L1,0.7L0.7,1L0,0.3L-0.7,1L-1,0.7L-0.3,0Z M-0.22,-1L0.22,-1L0.22,1L-0.22,1Z"]}}}},
                {"data": {"values": [{"day": 15.3, "val": 0.9, "txt": "(h)"}]}, "mark": {"type": "text", "align": "left", "fontSize": 11.5, "color": "#222222"}, "encoding": {"x": {"field": "day", "type": "quantitative", "axis": null}, "y": {"field": "val", "type": "quantitative", "axis": null}, "text": {"field": "txt"}}}
              ],
              "resolve": {"axis": {"x": "independent", "y": "independent"}}
            },
            {
              "width": 94, "height": 93, "view": {"stroke": "#c77bc7"},
              "data": {"values": [{"day":15.6,"val":0.48},{"day":16.6,"val":0.52},{"day":17.6,"val":0.59},{"day":18.6,"val":0.57},{"day":19.6,"val":0.62},{"day":20.6,"val":0.61},{"day":21.6,"val":0.61},{"day":22.6,"val":0.64},{"day":23.6,"val":0.63},{"day":24.6,"val":0.62},{"day":25.6,"val":0.64},{"day":26.6,"val":0.64},{"day":27.6,"val":0.63},{"day":28.6,"val":0.73}]},
              "layer": [
                {"data": {"values": [{"x0":17.55,"x1":20.6,"y0":0.47,"y1":0.74,"b":"band2"},{"x0":23.45,"x1":26.6,"y0":0.47,"y1":0.74,"b":"band2"}]}, "mark": "rect", "encoding": {"x": {"field": "x0", "type": "quantitative", "axis": null}, "x2": {"field": "x1"}, "y": {"field": "y0", "type": "quantitative", "axis": null}, "y2": {"field": "y1"}, "color": {"field": "b", "type": "nominal", "scale": {"domain": ["777","630","557","band1","band2","band3"], "range": ["#9c1f4f","#e41f26","#2e9a3e","#8fd3f3","#f4a3e4","#d4d4d4"]}}}},
                {"data": {"values": [{"day":17.6,"k":"dash"},{"day":18.6,"k":"dashdot"},{"day":24.6,"k":"dash"}]}, "mark": {"type": "rule", "color": "#222222", "strokeWidth": 0.9}, "encoding": {"x": {"field": "day", "type": "quantitative", "axis": null}, "strokeDash": {"field": "k", "type": "nominal", "scale": {"domain": ["dot","dash","dashdot"], "range": [[1.5,2],[5,3],[5,2,1.5,2]]}}}},
                {"mark": {"type": "line", "color": "#c43ec8", "strokeWidth": 1.1}, "encoding": {
                  "x": {"field": "day", "type": "quantitative", "scale": {"domain": [15, 30], "nice": false}, "axis": {"orient": "bottom", "values": [15,16,17,18,19,20,21,22,23,24,25,26,27,28,29,30], "tickSize": {"condition": {"test": "datum.value % 5 === 0", "value": -5}, "value": -2.5}, "tickColor": "#b45ab4", "title": null}},
                  "y": {"field": "val", "type": "quantitative", "scale": {"domain": [0.45, 0.75], "nice": false}, "axis": {"orient": "left", "values": [0.45,0.5,0.55,0.6,0.65,0.7,0.75], "tickSize": {"condition": {"test": "round(datum.value*100) % 10 === 5", "value": -5}, "value": -2.5}, "tickColor": "#b45ab4", "title": null}}}},
                {"mark": {"type": "point", "shape": "circle", "filled": true, "color": "#c43ec8", "size": 28, "opacity": 1}, "encoding": {
                  "x": {"field": "day", "type": "quantitative", "axis": {"orient": "top", "values": [15,16,17,18,19,20,21,22,23,24,25,26,27,28,29,30], "tickSize": {"condition": {"test": "datum.value % 5 === 0", "value": -5}, "value": -2.5}, "tickColor": "#b45ab4", "title": null}},
                  "y": {"field": "val", "type": "quantitative", "axis": {"orient": "right", "values": [0.45,0.5,0.55,0.6,0.65,0.7,0.75], "tickSize": {"condition": {"test": "round(datum.value*100) % 10 === 5", "value": -5}, "value": -2.5}, "tickColor": "#b45ab4", "title": null}}}},
                {"data": {"values": [{"day": 15.3, "val": 0.725, "txt": "(i)"}]}, "mark": {"type": "text", "align": "left", "fontSize": 11.5, "color": "#222222"}, "encoding": {"x": {"field": "day", "type": "quantitative", "axis": null}, "y": {"field": "val", "type": "quantitative", "axis": null}, "text": {"field": "txt"}}}
              ],
              "resolve": {"axis": {"x": "independent", "y": "independent"}}
            },
            {
              "width": 94, "height": 90, "view": {"stroke": "#6f9468"},
              "layer": [
                {"data": {"values": [{"x0":23.45,"x1":26.6,"y0":8,"y1":93,"b":"band1"}]}, "mark": "rect", "encoding": {"x": {"field": "x0", "type": "quantitative", "axis": null}, "x2": {"field": "x1"}, "y": {"field": "y0", "type": "quantitative", "scale": {"domain": [0, 100], "nice": false}, "axis": null}, "y2": {"field": "y1"}, "color": {"field": "b", "type": "nominal", "scale": {"domain": ["777","630","557","band1","band2","band3"], "range": ["#9c1f4f","#e41f26","#2e9a3e","#8fd3f3","#f4a3e4","#d4d4d4"]}}}},
                {"data": {"values": [{"day":17.6,"k":"dash"},{"day":18.6,"k":"dashdot"},{"day":24.6,"k":"dash"}]}, "mark": {"type": "rule", "color": "#222222", "strokeWidth": 0.9}, "encoding": {"x": {"field": "day", "type": "quantitative", "axis": null}, "strokeDash": {"field": "k", "type": "nominal", "scale": {"domain": ["dot","dash","dashdot"], "range": [[1.5,2],[5,3],[5,2,1.5,2]]}}}},
                {"data": {"values": [{"day":15.6,"val":43,"g":1},{"day":16.6,"val":44,"g":1},{"day":17.6,"val":38,"g":1},{"day":18.6,"val":52,"g":1},{"day":19.6,"val":46,"g":1},{"day":20.6,"val":41,"g":1},{"day":21.6,"val":42,"g":1},{"day":22.6,"val":44,"g":1},{"day":23.6,"val":46,"g":1},{"day":24.6,"val":56,"g":1},{"day":25.6,"val":56,"g":1},{"day":26.6,"val":46,"g":1},{"day":27.6,"val":44,"g":1},{"day":28.6,"val":56,"g":1}]}, "mark": {"type": "line", "color": "#5db946", "strokeWidth": 1.1}, "encoding": {"x": {"field": "day", "type": "quantitative", "axis": null}, "y": {"field": "val", "type": "quantitative", "scale": {"domain": [0, 83], "nice": false}, "axis": null}, "detail": {"field": "g", "type": "nominal"}}},
                {"data": {"values": [{"day":15.6,"val":43,"g":1},{"day":16.6,"val":44,"g":1},{"day":17.6,"val":38,"g":1},{"day":18.6,"val":52,"g":1},{"day":19.6,"val":46,"g":1},{"day":20.6,"val":41,"g":1},{"day":21.6,"val":42,"g":1},{"day":22.6,"val":44,"g":1},{"day":23.6,"val":46,"g":1},{"day":24.6,"val":56,"g":1},{"day":25.6,"val":56,"g":1},{"day":26.6,"val":46,"g":1},{"day":27.6,"val":44,"g":1},{"day":28.6,"val":56,"g":1}]}, "mark": {"type": "point", "shape": "triangle-down", "filled": true, "color": "#5db946", "size": 30, "opacity": 1}, "encoding": {
                  "x": {"field": "day", "type": "quantitative", "axis": {"orient": "top", "values": [15,16,17,18,19,20,21,22,23,24,25,26,27,28,29,30], "tickSize": {"condition": {"test": "datum.value % 5 === 0", "value": -5}, "value": -2.5}, "title": null}},
                  "y": {"field": "val", "type": "quantitative", "scale": {"domain": [0, 83], "nice": false}, "axis": {"orient": "right", "values": [0,10,20,30,40,50,60,70,80], "tickSize": {"condition": {"test": "datum.value % 20 === 0", "value": -5}, "value": -2.5}, "title": null}}}},
                {"data": {"values": [{"day":15.6,"val":46},{"day":16.6,"val":55},{"day":17.6,"val":52},{"day":18.6,"val":72},{"day":19.6,"val":63},{"day":20.6,"val":22},{"day":21.6,"val":29},{"day":22.6,"val":40},{"day":23.6,"val":48},{"day":24.6,"val":42},{"day":25.6,"val":61},{"day":26.6,"val":22},{"day":27.6,"val":10},{"day":28.6,"val":37}]}, "mark": {"type": "line", "color": "#1f1f9e", "strokeWidth": 1.1}, "encoding": {
                  "x": {"field": "day", "type": "quantitative", "scale": {"domain": [15, 30], "nice": false}, "axis": {"orient": "bottom", "values": [15,16,17,18,19,20,21,22,23,24,25,26,27,28,29,30], "tickSize": {"condition": {"test": "datum.value % 5 === 0", "value": -5}, "value": -2.5}, "labels": true, "labelExpr": "datum.value % 5 === 0 ? datum.label : ''", "title": null}},
                  "y": {"field": "val", "type": "quantitative", "scale": {"domain": [0, 100], "nice": false}, "axis": {"orient": "left", "values": [0,10,20,30,40,50,60,70,80,90,100], "tickSize": {"condition": {"test": "datum.value % 20 === 0", "value": -5}, "value": -2.5}, "title": null}}}},
                {"data": {"values": [{"day":15.6,"val":46},{"day":16.6,"val":55},{"day":17.6,"val":52},{"day":18.6,"val":72},{"day":19.6,"val":63},{"day":20.6,"val":22},{"day":21.6,"val":29},{"day":22.6,"val":40},{"day":23.6,"val":48},{"day":24.6,"val":42},{"day":25.6,"val":61},{"day":26.6,"val":22},{"day":27.6,"val":10},{"day":28.6,"val":37}]}, "mark": {"type": "point", "shape": "triangle-up", "filled": true, "color": "#1f1f9e", "size": 30, "opacity": 1}, "encoding": {"x": {"field": "day", "type": "quantitative", "axis": null}, "y": {"field": "val", "type": "quantitative", "scale": {"domain": [0, 100], "nice": false}, "axis": null}}},
                {"data": {"values": [{"day": 15.3, "val": 91, "txt": "(j)"}]}, "mark": {"type": "text", "align": "left", "fontSize": 11.5, "color": "#222222"}, "encoding": {"x": {"field": "day", "type": "quantitative", "axis": null}, "y": {"field": "val", "type": "quantitative", "scale": {"domain": [0, 100], "nice": false}, "axis": null}, "text": {"field": "txt"}}}
              ],
              "resolve": {"scale": {"y": "independent"}, "axis": {"x": "independent", "y": "independent"}}
            }
          ]
        }
      ]
    },
    {
      "spacing": 8,
      "hconcat": [
        {
          "spacing": 7,
          "bounds": "flush",
          "vconcat": [
            {
              "title": {"text": "Mar2016"},
              "width": 125, "height": 86,
              "data": {"values": [{"day":5.45,"val":1},{"day":6.5,"val":12},{"day":7.55,"val":-74},{"day":8.6,"val":-44},{"day":9.5,"val":-27},{"day":10.5,"val":-26},{"day":11.6,"val":-8},{"day":12.6,"val":-11},{"day":13.5,"val":-10},{"day":14.6,"val":-4},{"day":15.6,"val":-23},{"day":16.6,"val":-30},{"day":17.5,"val":-39},{"day":18.6,"val":-26},{"day":19.6,"val":-34},{"day":20.6,"val":-26},{"day":21.6,"val":-24},{"day":22.6,"val":-5},{"day":23.6,"val":-6},{"day":24.6,"val":-4}]},
              "layer": [
                {"data": {"values": [{"day":7.55,"k":"dash"},{"day":17.5,"k":"dash"}]}, "mark": {"type": "rule", "color": "#222222", "strokeWidth": 0.9}, "encoding": {"x": {"field": "day", "type": "quantitative", "axis": null}, "strokeDash": {"field": "k", "type": "nominal", "scale": {"domain": ["dot","dash","dashdot"], "range": [[1.5,2],[5,3],[5,2,1.5,2]]}}}},
                {"data": {"values": [{"val": 0}]}, "mark": {"type": "rule", "strokeDash": [1.5, 2], "color": "#222222", "strokeWidth": 0.8}, "encoding": {"y": {"field": "val", "type": "quantitative", "axis": null}}},
                {"mark": {"type": "line", "color": "#111111", "strokeWidth": 1.1}, "encoding": {
                  "x": {"field": "day", "type": "quantitative", "scale": {"domain": [5, 25], "nice": false}, "axis": {"orient": "bottom", "values": [5,6,7,8,9,10,11,12,13,14,15,16,17,18,19,20,21,22,23,24,25], "tickSize": {"condition": {"test": "datum.value % 5 === 0", "value": -5}, "value": -2.5}, "title": null}},
                  "y": {"field": "val", "type": "quantitative", "scale": {"domain": [-80, 40], "nice": false}, "axis": {"orient": "left", "values": [-80,-70,-60,-50,-40,-30,-20,-10,0,10,20,30,40], "tickSize": {"condition": {"test": "datum.value % 40 === 0", "value": -5}, "value": -2.5}, "title": null}}}},
                {"mark": {"type": "point", "shape": "triangle-down", "filled": true, "color": "#111111", "size": 26, "opacity": 1}, "encoding": {
                  "x": {"field": "day", "type": "quantitative", "axis": {"orient": "top", "values": [5,6,7,8,9,10,11,12,13,14,15,16,17,18,19,20,21,22,23,24,25], "tickSize": {"condition": {"test": "datum.value % 5 === 0", "value": -5}, "value": -2.5}, "title": null}},
                  "y": {"field": "val", "type": "quantitative", "axis": {"orient": "right", "values": [-80,-70,-60,-50,-40,-30,-20,-10,0,10,20,30,40], "tickSize": {"condition": {"test": "datum.value % 40 === 0", "value": -5}, "value": -2.5}, "title": null}}}},
                {"data": {"values": [{"day": 5.2, "val": 28, "txt": "(k)"}, {"day": 11.4, "val": 26, "txt": "Event-3"}]}, "mark": {"type": "text", "align": "left", "fontSize": 11.5, "color": "#222222"}, "encoding": {"x": {"field": "day", "type": "quantitative", "axis": null}, "y": {"field": "val", "type": "quantitative", "axis": null}, "text": {"field": "txt"}}}
              ],
              "resolve": {"axis": {"x": "independent", "y": "independent"}}
            },
            {
              "width": 125, "height": 89,
              "data": {"values": [
                {"day":6.5,"val":0.59,"s":"557","g":1},{"day":7.55,"val":0.65,"s":"557","g":1},{"day":8.6,"val":0.74,"s":"557","g":1},{"day":10.5,"val":0.78,"s":"557","g":2},{"day":12.6,"val":0.9,"s":"557","g":3},{"day":13.5,"val":0.8,"s":"557","g":3},{"day":17.5,"val":0.67,"s":"557","g":4},{"day":18.6,"val":0.6,"s":"557","g":4},{"day":19.6,"val":1.0,"s":"557","g":4},{"day":20.6,"val":0.95,"s":"557","g":4},{"day":21.6,"val":0.58,"s":"557","g":4},
                {"day":6.5,"val":0.43,"s":"777","g":1},{"day":7.55,"val":0.41,"s":"777","g":1},{"day":8.6,"val":0.5,"s":"777","g":1},{"day":10.5,"val":0.55,"s":"777","g":2},{"day":12.6,"val":0.67,"s":"777","g":3},{"day":13.5,"val":0.63,"s":"777","g":3},{"day":17.5,"val":0.65,"s":"777","g":4},{"day":18.6,"val":0.55,"s":"777","g":4},{"day":19.6,"val":0.95,"s":"777","g":4},{"day":20.6,"val":1.0,"s":"777","g":4},{"day":21.6,"val":0.78,"s":"777","g":4},
                {"day":6.5,"val":0.43,"s":"630","g":1},{"day":7.55,"val":0.19,"s":"630","g":1},{"day":8.6,"val":0.33,"s":"630","g":1},{"day":10.5,"val":0.27,"s":"630","g":2},{"day":12.6,"val":0.39,"s":"630","g":3},{"day":13.5,"val":0.33,"s":"630","g":3},{"day":17.5,"val":1.0,"s":"630","g":4},{"day":18.6,"val":0.62,"s":"630","g":4},{"day":19.6,"val":0.85,"s":"630","g":4},{"day":20.6,"val":0.45,"s":"630","g":4}
              ]},
              "layer": [
                {"data": {"values": [{"x0":6.6,"x1":13.5,"y0":0.02,"y1":0.98,"b":"band1"},{"x0":17.5,"x1":19.6,"y0":0.02,"y1":0.98,"b":"band2"},{"x0":19.6,"x1":21.5,"y0":0.02,"y1":0.98,"b":"band3"}]}, "mark": "rect", "encoding": {"x": {"field": "x0", "type": "quantitative", "axis": null}, "x2": {"field": "x1"}, "y": {"field": "y0", "type": "quantitative", "axis": null}, "y2": {"field": "y1"}, "color": {"field": "b", "type": "nominal", "scale": {"domain": ["777","630","557","band1","band2","band3"], "range": ["#9c1f4f","#e41f26","#2e9a3e","#8fd3f3","#f4a3e4","#d4d4d4"]}}}},
                {"data": {"values": [{"day":7.55,"k":"dash"},{"day":9.5,"k":"dot"},{"day":10.4,"k":"dot"},{"day":17.5,"k":"dash"}]}, "mark": {"type": "rule", "color": "#222222", "strokeWidth": 0.9}, "encoding": {"x": {"field": "day", "type": "quantitative", "axis": null}, "strokeDash": {"field": "k", "type": "nominal", "scale": {"domain": ["dot","dash","dashdot"], "range": [[1.5,2],[5,3],[5,2,1.5,2]]}}}},
                {"mark": {"type": "line", "strokeDash": [1.5, 2], "strokeWidth": 1}, "encoding": {"x": {"field": "day", "type": "quantitative", "axis": null}, "y": {"field": "val", "type": "quantitative", "axis": null}, "color": {"field": "s", "type": "nominal", "scale": {"domain": ["777","630","557","band1","band2","band3"], "range": ["#9c1f4f","#e41f26","#2e9a3e","#8fd3f3","#f4a3e4","#d4d4d4"]}}}},
                {"mark": {"type": "line", "strokeWidth": 1.2}, "encoding": {
                  "x": {"field": "day", "type": "quantitative", "scale": {"domain": [5, 25], "nice": false}, "axis": {"orient": "bottom", "values": [5,6,7,8,9,10,11,12,13,14,15,16,17,18,19,20,21,22,23,24,25], "tickSize": {"condition": {"test": "datum.value % 5 === 0", "value": -5}, "value": -2.5}, "title": null}},
                  "y": {"field": "val", "type": "quantitative", "scale": {"domain": [0, 1], "nice": false}, "axis": {"orient": "left", "values": [0,0.1,0.2,0.3,0.4,0.5,0.6,0.7,0.8,0.9,1], "tickSize": {"condition": {"test": "round(datum.value*10) % 2 === 0", "value": -5}, "value": -2.5}, "title": null}},
                  "color": {"field": "s", "type": "nominal", "scale": {"domain": ["777","630","557","band1","band2","band3"], "range": ["#9c1f4f","#e41f26","#2e9a3e","#8fd3f3","#f4a3e4","#d4d4d4"]}},
                  "detail": {"field": "g", "type": "nominal"}}},
                {"mark": {"type": "point", "filled": true, "size": 26, "opacity": 1}, "encoding": {
                  "x": {"field": "day", "type": "quantitative", "axis": {"orient": "top", "values": [5,6,7,8,9,10,11,12,13,14,15,16,17,18,19,20,21,22,23,24,25], "tickSize": {"condition": {"test": "datum.value % 5 === 0", "value": -5}, "value": -2.5}, "title": null}},
                  "y": {"field": "val", "type": "quantitative", "axis": {"orient": "right", "values": [0,0.1,0.2,0.3,0.4,0.5,0.6,0.7,0.8,0.9,1], "tickSize": {"condition": {"test": "round(datum.value*10) % 2 === 0", "value": -5}, "value": -2.5}, "title": null}},
                  "color": {"field": "s", "type": "nominal", "scale": {"domain": ["777","630","557","band1","band2","band3"], "range": ["#9c1f4f","#e41f26","#2e9a3e","#8fd3f3","#f4a3e4","#d4d4d4"]}},
                  "shape": {"field": "s", "type": "nominal", "scale": {"domain": ["777","630","557"], "range": ["M-1,-0.7L-0.7,-1L0,-0.3L0.7,-1L1,-0.7L0.3,0L1,0.7L0.7,1L0,0.3L-0.7,1L-1,0.7L-0.3,0Z", "circle", "M-1,-0.7L-0.7,-1L0,-0.3L0.7,-1L1,-0.7L0.3,0L1,0.7L0.7,1L0,0.3L-0.7,1L-1,0.7L-0.3,0Z M-0.22,-1L0.22,-1L0.22,1L-0.22,1Z"]}}}},
                {"data": {"values": [{"day": 5.2, "val": 0.9, "txt": "(l)"}]}, "mark": {"type": "text", "align": "left", "fontSize": 11.5, "color": "#222222"}, "encoding": {"x": {"field": "day", "type": "quantitative", "axis": null}, "y": {"field": "val", "type": "quantitative", "axis": null}, "text": {"field": "txt"}}}
              ],
              "resolve": {"axis": {"x": "independent", "y": "independent"}}
            },
            {
              "width": 125, "height": 91,
              "data": {"values": [
                {"day":6.5,"val":0.5,"s":"557","g":1},{"day":7.55,"val":0.58,"s":"557","g":1},{"day":8.6,"val":0.66,"s":"557","g":1},{"day":10.5,"val":0.68,"s":"557","g":2},{"day":12.6,"val":0.82,"s":"557","g":3},{"day":13.5,"val":0.74,"s":"557","g":3},{"day":17.5,"val":0.6,"s":"557","g":4},{"day":18.6,"val":0.55,"s":"557","g":4},{"day":19.6,"val":0.9,"s":"557","g":4},{"day":20.6,"val":0.78,"s":"557","g":4},{"day":21.6,"val":0.5,"s":"557","g":4},
                {"day":6.5,"val":0.45,"s":"777","g":1},{"day":7.55,"val":0.5,"s":"777","g":1},{"day":8.6,"val":0.55,"s":"777","g":1},{"day":10.5,"val":0.55,"s":"777","g":2},{"day":12.6,"val":0.65,"s":"777","g":3},{"day":13.5,"val":0.62,"s":"777","g":3},{"day":17.5,"val":0.62,"s":"777","g":4},{"day":18.6,"val":0.5,"s":"777","g":4},{"day":19.6,"val":0.85,"s":"777","g":4},{"day":20.6,"val":1.0,"s":"777","g":4},{"day":21.6,"val":0.85,"s":"777","g":4},
                {"day":6.5,"val":0.4,"s":"630","g":1},{"day":7.55,"val":0.2,"s":"630","g":1},{"day":8.6,"val":0.32,"s":"630","g":1},{"day":10.5,"val":0.25,"s":"630","g":2},{"day":12.6,"val":0.38,"s":"630","g":3},{"day":13.5,"val":0.32,"s":"630","g":3},{"day":17.5,"val":1.0,"s":"630","g":4},{"day":18.6,"val":0.6,"s":"630","g":4},{"day":19.6,"val":0.75,"s":"630","g":4},{"day":20.6,"val":0.5,"s":"630","g":4},{"day":21.6,"val":0.58,"s":"630","g":4}
              ]},
              "layer": [
                {"data": {"values": [{"x0":6.6,"x1":13.5,"y0":0.02,"y1":0.98,"b":"band1"},{"x0":17.5,"x1":19.6,"y0":0.02,"y1":0.98,"b":"band2"},{"x0":19.6,"x1":21.5,"y0":0.02,"y1":0.98,"b":"band3"}]}, "mark": "rect", "encoding": {"x": {"field": "x0", "type": "quantitative", "axis": null}, "x2": {"field": "x1"}, "y": {"field": "y0", "type": "quantitative", "axis": null}, "y2": {"field": "y1"}, "color": {"field": "b", "type": "nominal", "scale": {"domain": ["777","630","557","band1","band2","band3"], "range": ["#9c1f4f","#e41f26","#2e9a3e","#8fd3f3","#f4a3e4","#d4d4d4"]}}}},
                {"data": {"values": [{"day":7.55,"k":"dash"},{"day":9.5,"k":"dot"},{"day":10.4,"k":"dot"},{"day":17.5,"k":"dash"}]}, "mark": {"type": "rule", "color": "#222222", "strokeWidth": 0.9}, "encoding": {"x": {"field": "day", "type": "quantitative", "axis": null}, "strokeDash": {"field": "k", "type": "nominal", "scale": {"domain": ["dot","dash","dashdot"], "range": [[1.5,2],[5,3],[5,2,1.5,2]]}}}},
                {"mark": {"type": "line", "strokeDash": [1.5, 2], "strokeWidth": 1}, "encoding": {"x": {"field": "day", "type": "quantitative", "axis": null}, "y": {"field": "val", "type": "quantitative", "axis": null}, "color": {"field": "s", "type": "nominal", "scale": {"domain": ["777","630","557","band1","band2","band3"], "range": ["#9c1f4f","#e41f26","#2e9a3e","#8fd3f3","#f4a3e4","#d4d4d4"]}}}},
                {"mark": {"type": "line", "strokeWidth": 1.2}, "encoding": {
                  "x": {"field": "day", "type": "quantitative", "scale": {"domain": [5, 25], "nice": false}, "axis": {"orient": "bottom", "values": [5,6,7,8,9,10,11,12,13,14,15,16,17,18,19,20,21,22,23,24,25], "tickSize": {"condition": {"test": "datum.value % 5 === 0", "value": -5}, "value": -2.5}, "title": null}},
                  "y": {"field": "val", "type": "quantitative", "scale": {"domain": [0, 1], "nice": false}, "axis": {"orient": "left", "values": [0,0.1,0.2,0.3,0.4,0.5,0.6,0.7,0.8,0.9,1], "tickSize": {"condition": {"test": "round(datum.value*10) % 2 === 0", "value": -5}, "value": -2.5}, "title": null}},
                  "color": {"field": "s", "type": "nominal", "scale": {"domain": ["777","630","557","band1","band2","band3"], "range": ["#9c1f4f","#e41f26","#2e9a3e","#8fd3f3","#f4a3e4","#d4d4d4"]}},
                  "detail": {"field": "g", "type": "nominal"}}},
                {"mark": {"type": "point", "filled": true, "size": 26, "opacity": 1}, "encoding": {
                  "x": {"field": "day", "type": "quantitative", "axis": {"orient": "top", "values": [5,6,7,8,9,10,11,12,13,14,15,16,17,18,19,20,21,22,23,24,25], "tickSize": {"condition": {"test": "datum.value % 5 === 0", "value": -5}, "value": -2.5}, "title": null}},
                  "y": {"field": "val", "type": "quantitative", "axis": {"orient": "right", "values": [0,0.1,0.2,0.3,0.4,0.5,0.6,0.7,0.8,0.9,1], "tickSize": {"condition": {"test": "round(datum.value*10) % 2 === 0", "value": -5}, "value": -2.5}, "title": null}},
                  "color": {"field": "s", "type": "nominal", "scale": {"domain": ["777","630","557","band1","band2","band3"], "range": ["#9c1f4f","#e41f26","#2e9a3e","#8fd3f3","#f4a3e4","#d4d4d4"]}},
                  "shape": {"field": "s", "type": "nominal", "scale": {"domain": ["777","630","557"], "range": ["M-1,-0.7L-0.7,-1L0,-0.3L0.7,-1L1,-0.7L0.3,0L1,0.7L0.7,1L0,0.3L-0.7,1L-1,0.7L-0.3,0Z", "circle", "M-1,-0.7L-0.7,-1L0,-0.3L0.7,-1L1,-0.7L0.3,0L1,0.7L0.7,1L0,0.3L-0.7,1L-1,0.7L-0.3,0Z M-0.22,-1L0.22,-1L0.22,1L-0.22,1Z"]}}}},
                {"data": {"values": [{"day": 5.2, "val": 0.9, "txt": "(m)"}]}, "mark": {"type": "text", "align": "left", "fontSize": 11.5, "color": "#222222"}, "encoding": {"x": {"field": "day", "type": "quantitative", "axis": null}, "y": {"field": "val", "type": "quantitative", "axis": null}, "text": {"field": "txt"}}}
              ],
              "resolve": {"axis": {"x": "independent", "y": "independent"}}
            },
            {
              "width": 125, "height": 93, "view": {"stroke": "#c77bc7"},
              "data": {"values": [{"day":5.45,"val":0.645},{"day":6.5,"val":0.67},{"day":7.55,"val":0.73},{"day":8.6,"val":0.73},{"day":9.5,"val":0.7},{"day":10.5,"val":0.7},{"day":11.6,"val":0.69},{"day":12.6,"val":0.69},{"day":13.5,"val":0.665},{"day":14.6,"val":0.655},{"day":15.6,"val":0.665},{"day":16.6,"val":0.7},{"day":17.5,"val":0.725},{"day":18.6,"val":0.715},{"day":19.6,"val":0.725},{"day":20.6,"val":0.715},{"day":21.6,"val":0.74},{"day":22.6,"val":0.69},{"day":23.6,"val":0.635},{"day":24.6,"val":0.635}]},
              "layer": [
                {"data": {"values": [{"x0":17.5,"x1":19.6,"y0":0.47,"y1":0.74,"b":"band2"},{"x0":19.6,"x1":21.5,"y0":0.47,"y1":0.74,"b":"band3"}]}, "mark": "rect", "encoding": {"x": {"field": "x0", "type": "quantitative", "axis": null}, "x2": {"field": "x1"}, "y": {"field": "y0", "type": "quantitative", "axis": null}, "y2": {"field": "y1"}, "color": {"field": "b", "type": "nominal", "scale": {"domain": ["777","630","557","band1","band2","band3"], "range": ["#9c1f4f","#e41f26","#2e9a3e","#8fd3f3","#f4a3e4","#d4d4d4"]}}}},
                {"data": {"values": [{"day":7.55,"k":"dash"},{"day":9.5,"k":"dot"},{"day":10.4,"k":"dot"},{"day":17.5,"k":"dash"}]}, "mark": {"type": "rule", "color": "#222222", "strokeWidth": 0.9}, "encoding": {"x": {"field": "day", "type": "quantitative", "axis": null}, "strokeDash": {"field": "k", "type": "nominal", "scale": {"domain": ["dot","dash","dashdot"], "range": [[1.5,2],[5,3],[5,2,1.5,2]]}}}},
                {"mark": {"type": "line", "color": "#c43ec8", "strokeWidth": 1.1}, "encoding": {
                  "x": {"field": "day", "type": "quantitative", "scale": {"domain": [5, 25], "nice": false}, "axis": {"orient": "bottom", "values": [5,6,7,8,9,10,11,12,13,14,15,16,17,18,19,20,21,22,23,24,25], "tickSize": {"condition": {"test": "datum.value % 5 === 0", "value": -5}, "value": -2.5}, "tickColor": "#b45ab4", "title": null}},
                  "y": {"field": "val", "type": "quantitative", "scale": {"domain": [0.45, 0.75], "nice": false}, "axis": {"orient": "left", "values": [0.45,0.5,0.55,0.6,0.65,0.7,0.75], "tickSize": {"condition": {"test": "round(datum.value*100) % 10 === 5", "value": -5}, "value": -2.5}, "tickColor": "#b45ab4", "title": null}}}},
                {"mark": {"type": "point", "shape": "circle", "filled": true, "color": "#c43ec8", "size": 28, "opacity": 1}, "encoding": {
                  "x": {"field": "day", "type": "quantitative", "axis": {"orient": "top", "values": [5,6,7,8,9,10,11,12,13,14,15,16,17,18,19,20,21,22,23,24,25], "tickSize": {"condition": {"test": "datum.value % 5 === 0", "value": -5}, "value": -2.5}, "tickColor": "#b45ab4", "title": null}},
                  "y": {"field": "val", "type": "quantitative", "axis": {"orient": "right", "values": [0.45,0.5,0.55,0.6,0.65,0.7,0.75], "tickSize": {"condition": {"test": "round(datum.value*100) % 10 === 5", "value": -5}, "value": -2.5}, "tickColor": "#b45ab4", "title": null}}}},
                {"data": {"values": [{"day": 5.2, "val": 0.58, "txt": "(n)"}]}, "mark": {"type": "text", "align": "left", "fontSize": 11.5, "color": "#222222"}, "encoding": {"x": {"field": "day", "type": "quantitative", "axis": null}, "y": {"field": "val", "type": "quantitative", "axis": null}, "text": {"field": "txt"}}}
              ],
              "resolve": {"axis": {"x": "independent", "y": "independent"}}
            },
            {
              "width": 125, "height": 90, "view": {"stroke": "#6f9468"},
              "layer": [
                {"data": {"values": [{"x0":6.6,"x1":13.5,"y0":8,"y1":93,"b":"band1"},{"x0":19.6,"x1":21.5,"y0":8,"y1":93,"b":"band3"}]}, "mark": "rect", "encoding": {"x": {"field": "x0", "type": "quantitative", "axis": null}, "x2": {"field": "x1"}, "y": {"field": "y0", "type": "quantitative", "scale": {"domain": [0, 100], "nice": false}, "axis": null}, "y2": {"field": "y1"}, "color": {"field": "b", "type": "nominal", "scale": {"domain": ["777","630","557","band1","band2","band3"], "range": ["#9c1f4f","#e41f26","#2e9a3e","#8fd3f3","#f4a3e4","#d4d4d4"]}}}},
                {"data": {"values": [{"day":7.55,"k":"dash"},{"day":9.5,"k":"dot"},{"day":10.4,"k":"dot"},{"day":17.5,"k":"dash"}]}, "mark": {"type": "rule", "color": "#222222", "strokeWidth": 0.9}, "encoding": {"x": {"field": "day", "type": "quantitative", "axis": null}, "strokeDash": {"field": "k", "type": "nominal", "scale": {"domain": ["dot","dash","dashdot"], "range": [[1.5,2],[5,3],[5,2,1.5,2]]}}}},
                {"data": {"values": [{"day":6.5,"val":34,"g":1},{"day":7.55,"val":43,"g":1},{"day":8.6,"val":42,"g":1},{"day":11.6,"val":51,"g":2},{"day":12.6,"val":46,"g":2},{"day":13.5,"val":32,"g":2},{"day":14.6,"val":42,"g":2},{"day":15.6,"val":42,"g":2},{"day":16.6,"val":43,"g":2},{"day":17.5,"val":43,"g":2},{"day":18.6,"val":33,"g":2}]}, "mark": {"type": "line", "color": "#5db946", "strokeWidth": 1.1}, "encoding": {"x": {"field": "day", "type": "quantitative", "axis": null}, "y": {"field": "val", "type": "quantitative", "scale": {"domain": [0, 83], "nice": false}, "axis": null}, "detail": {"field": "g", "type": "nominal"}}},
                {"data": {"values": [{"day":6.5,"val":34,"g":1},{"day":7.55,"val":43,"g":1},{"day":8.6,"val":42,"g":1},{"day":11.6,"val":51,"g":2},{"day":12.6,"val":46,"g":2},{"day":13.5,"val":32,"g":2},{"day":14.6,"val":42,"g":2},{"day":15.6,"val":42,"g":2},{"day":16.6,"val":43,"g":2},{"day":17.5,"val":43,"g":2},{"day":18.6,"val":33,"g":2}]}, "mark": {"type": "point", "shape": "triangle-down", "filled": true, "color": "#5db946", "size": 30, "opacity": 1}, "encoding": {
                  "x": {"field": "day", "type": "quantitative", "axis": {"orient": "top", "values": [5,6,7,8,9,10,11,12,13,14,15,16,17,18,19,20,21,22,23,24,25], "tickSize": {"condition": {"test": "datum.value % 5 === 0", "value": -5}, "value": -2.5}, "title": null}},
                  "y": {"field": "val", "type": "quantitative", "scale": {"domain": [0, 83], "nice": false}, "axis": {"orient": "right", "values": [0,10,20,30,40,50,60,70,80], "tickSize": {"condition": {"test": "datum.value % 20 === 0", "value": -5}, "value": -2.5}, "title": null}}}},
                {"data": {"values": [{"day":5.45,"val":32},{"day":6.5,"val":29},{"day":7.55,"val":32},{"day":8.6,"val":28},{"day":9.5,"val":46},{"day":10.5,"val":31},{"day":11.6,"val":42},{"day":12.6,"val":42},{"day":13.5,"val":0},{"day":14.6,"val":45},{"day":15.6,"val":53},{"day":16.6,"val":53},{"day":17.5,"val":36},{"day":18.6,"val":30},{"day":19.6,"val":30},{"day":20.6,"val":32},{"day":21.6,"val":23}]}, "mark": {"type": "line", "color": "#1f1f9e", "strokeWidth": 1.1}, "encoding": {
                  "x": {"field": "day", "type": "quantitative", "scale": {"domain": [5, 25], "nice": false}, "axis": {"orient": "bottom", "values": [5,6,7,8,9,10,11,12,13,14,15,16,17,18,19,20,21,22,23,24,25], "tickSize": {"condition": {"test": "datum.value % 5 === 0", "value": -5}, "value": -2.5}, "labels": true, "labelExpr": "datum.value % 5 === 0 ? datum.label : ''", "title": "Date of Month", "titleFont": "DejaVu Sans", "titleFontSize": 11}},
                  "y": {"field": "val", "type": "quantitative", "scale": {"domain": [0, 100], "nice": false}, "axis": {"orient": "left", "values": [0,10,20,30,40,50,60,70,80,90,100], "tickSize": {"condition": {"test": "datum.value % 20 === 0", "value": -5}, "value": -2.5}, "title": null}}}},
                {"data": {"values": [{"day":5.45,"val":32},{"day":6.5,"val":29},{"day":7.55,"val":32},{"day":8.6,"val":28},{"day":9.5,"val":46},{"day":10.5,"val":31},{"day":11.6,"val":42},{"day":12.6,"val":42},{"day":13.5,"val":0},{"day":14.6,"val":45},{"day":15.6,"val":53},{"day":16.6,"val":53},{"day":17.5,"val":36},{"day":18.6,"val":30},{"day":19.6,"val":30},{"day":20.6,"val":32},{"day":21.6,"val":23}]}, "mark": {"type": "point", "shape": "triangle-up", "filled": true, "color": "#1f1f9e", "size": 30, "opacity": 1}, "encoding": {"x": {"field": "day", "type": "quantitative", "axis": null}, "y": {"field": "val", "type": "quantitative", "scale": {"domain": [0, 100], "nice": false}, "axis": null}}},
                {"data": {"values": [{"day": 5.2, "val": 91, "txt": "(o)"}]}, "mark": {"type": "text", "align": "left", "fontSize": 11.5, "color": "#222222"}, "encoding": {"x": {"field": "day", "type": "quantitative", "axis": null}, "y": {"field": "val", "type": "quantitative", "scale": {"domain": [0, 100], "nice": false}, "axis": null}, "text": {"field": "txt"}}}
              ],
              "resolve": {"scale": {"y": "independent"}, "axis": {"x": "independent", "y": "independent"}}
            }
          ]
        },
        {
          "spacing": 7,
          "bounds": "flush",
          "vconcat": [
            {
              "title": {"text": "May2015"},
              "width": 157, "height": 86,
              "data": {"values": [{"day":1.5,"val":2},{"day":2.5,"val":8},{"day":3.6,"val":-6},{"day":4.6,"val":-1},{"day":5.6,"val":-2},{"day":6.6,"val":-4},{"day":7.6,"val":-8},{"day":8.6,"val":-3},{"day":9.6,"val":5},{"day":10.6,"val":-4},{"day":11.6,"val":-34},{"day":12.6,"val":-32},{"day":13.6,"val":-51},{"day":14.6,"val":-39},{"day":15.6,"val":-24},{"day":16.6,"val":-13},{"day":17.6,"val":-6},{"day":18.6,"val":3},{"day":19.6,"val":-25},{"day":20.6,"val":-19},{"day":21.6,"val":-17},{"day":22.6,"val":-9},{"day":23.6,"val":2},{"day":24.6,"val":1}]},
              "layer": [
                {"data": {"values": [{"day":12.6,"k":"dashdot"},{"day":13.6,"k":"dash"},{"day":19.6,"k":"dash"}]}, "mark": {"type": "rule", "color": "#222222", "strokeWidth": 0.9}, "encoding": {"x": {"field": "day", "type": "quantitative", "axis": null}, "strokeDash": {"field": "k", "type": "nominal", "scale": {"domain": ["dot","dash","dashdot"], "range": [[1.5,2],[5,3],[5,2,1.5,2]]}}}},
                {"data": {"values": [{"val": 0}]}, "mark": {"type": "rule", "strokeDash": [1.5, 2], "color": "#222222", "strokeWidth": 0.8}, "encoding": {"y": {"field": "val", "type": "quantitative", "axis": null}}},
                {"mark": {"type": "line", "color": "#111111", "strokeWidth": 1.1}, "encoding": {
                  "x": {"field": "day", "type": "quantitative", "scale": {"domain": [0, 25], "nice": false}, "axis": {"orient": "bottom", "values": [0,1,2,3,4,5,6,7,8,9,10,11,12,13,14,15,16,17,18,19,20,21,22,23,24,25], "tickSize": {"condition": {"test": "datum.value % 5 === 0", "value": -5}, "value": -2.5}, "title": null}},
                  "y": {"field": "val", "type": "quantitative", "scale": {"domain": [-80, 40], "nice": false}, "axis": {"orient": "left", "values": [-80,-70,-60,-50,-40,-30,-20,-10,0,10,20,30,40], "tickSize": {"condition": {"test": "datum.value % 40 === 0", "value": -5}, "value": -2.5}, "title": null}}}},
                {"mark": {"type": "point", "shape": "triangle-down", "filled": true, "color": "#111111", "size": 26, "opacity": 1}, "encoding": {
                  "x": {"field": "day", "type": "quantitative", "axis": {"orient": "top", "values": [0,1,2,3,4,5,6,7,8,9,10,11,12,13,14,15,16,17,18,19,20,21,22,23,24,25], "tickSize": {"condition": {"test": "datum.value % 5 === 0", "value": -5}, "value": -2.5}, "title": null}},
                  "y": {"field": "val", "type": "quantitative", "axis": {"orient": "right", "values": [-80,-70,-60,-50,-40,-30,-20,-10,0,10,20,30,40], "tickSize": {"condition": {"test": "datum.value % 40 === 0", "value": -5}, "value": -2.5}, "title": null}}}},
                {"data": {"values": [{"day": 0.4, "val": 28, "txt": "(p)"}, {"day": 5.9, "val": 26, "txt": "Event-4"}]}, "mark": {"type": "text", "align": "left", "fontSize": 11.5, "color": "#222222"}, "encoding": {"x": {"field": "day", "type": "quantitative", "axis": null}, "y": {"field": "val", "type": "quantitative", "axis": null}, "text": {"field": "txt"}}}
              ],
              "resolve": {"axis": {"x": "independent", "y": "independent"}}
            },
            {
              "width": 157, "height": 89,
              "data": {"values": [
                {"day":1.5,"val":0.72,"s":"557","g":1},{"day":2.5,"val":0.5,"s":"557","g":1},{"day":3.6,"val":0.8,"s":"557","g":1},{"day":4.6,"val":1.0,"s":"557","g":1},{"day":5.6,"val":0.7,"s":"557","g":1},{"day":8.6,"val":0.42,"s":"557","g":2},{"day":9.6,"val":0.55,"s":"557","g":2},{"day":10.6,"val":0.8,"s":"557","g":2},{"day":12.6,"val":0.7,"s":"557","g":3},{"day":17.6,"val":0.78,"s":"557","g":4},{"day":18.6,"val":0.88,"s":"557","g":4},{"day":19.6,"val":0.67,"s":"557","g":4},{"day":20.6,"val":0.62,"s":"557","g":4},{"day":21.6,"val":0.55,"s":"557","g":4},{"day":22.6,"val":0.58,"s":"557","g":4},{"day":23.6,"val":0.43,"s":"557","g":4},{"day":24.6,"val":0.42,"s":"557","g":4},
                {"day":1.5,"val":0.7,"s":"777","g":1},{"day":2.5,"val":0.62,"s":"777","g":1},{"day":3.6,"val":0.76,"s":"777","g":1},{"day":4.6,"val":0.9,"s":"777","g":1},{"day":5.6,"val":0.82,"s":"777","g":1},{"day":8.6,"val":0.42,"s":"777","g":2},{"day":9.6,"val":0.5,"s":"777","g":2},{"day":10.6,"val":1.0,"s":"777","g":2},{"day":12.6,"val":0.7,"s":"777","g":3},{"day":17.6,"val":0.6,"s":"777","g":4},{"day":18.6,"val":1.0,"s":"777","g":4},{"day":19.6,"val":0.6,"s":"777","g":4},{"day":20.6,"val":0.57,"s":"777","g":4},{"day":21.6,"val":0.52,"s":"777","g":4},{"day":22.6,"val":0.55,"s":"777","g":4},{"day":23.6,"val":0.65,"s":"777","g":4},{"day":24.6,"val":0.35,"s":"777","g":4},
                {"day":1.5,"val":0.72,"s":"630","g":1},{"day":2.5,"val":0.68,"s":"630","g":1},{"day":3.6,"val":0.75,"s":"630","g":1},{"day":4.6,"val":0.78,"s":"630","g":1},{"day":5.6,"val":0.68,"s":"630","g":1},{"day":8.6,"val":0.42,"s":"630","g":2},{"day":9.6,"val":0.45,"s":"630","g":2},{"day":10.6,"val":0.98,"s":"630","g":2},{"day":12.6,"val":0.7,"s":"630","g":3},{"day":17.6,"val":0.57,"s":"630","g":4},{"day":18.6,"val":0.92,"s":"630","g":4},{"day":19.6,"val":0.4,"s":"630","g":4},{"day":20.6,"val":0.4,"s":"630","g":4},{"day":21.6,"val":0.45,"s":"630","g":4},{"day":22.6,"val":0.75,"s":"630","g":4},{"day":23.6,"val":0.55,"s":"630","g":4},{"day":24.6,"val":0.25,"s":"630","g":4}
              ]},
              "layer": [
                {"data": {"values": [{"x0":1.5,"x1":5.6,"y0":0.5,"y1":0.98,"b":"band2"},{"x0":1.5,"x1":5.6,"y0":0.02,"y1":0.5,"b":"band1"},{"x0":20.6,"x1":24.6,"y0":0.02,"y1":0.98,"b":"band2"}]}, "mark": "rect", "encoding": {"x": {"field": "x0", "type": "quantitative", "axis": null}, "x2": {"field": "x1"}, "y": {"field": "y0", "type": "quantitative", "axis": null}, "y2": {"field": "y1"}, "color": {"field": "b", "type": "nominal", "scale": {"domain": ["777","630","557","band1","band2","band3"], "range": ["#9c1f4f","#e41f26","#2e9a3e","#8fd3f3","#f4a3e4","#d4d4d4"]}}}},
                {"data": {"values": [{"day":1.5,"k":"dot"},{"day":2.5,"k":"dot"},{"day":12.6,"k":"dashdot"},{"day":13.6,"k":"dash"},{"day":19.6,"k":"dash"},{"day":23.5,"k":"dot"}]}, "mark": {"type": "rule", "color": "#222222", "strokeWidth": 0.9}, "encoding": {"x": {"field": "day", "type": "quantitative", "axis": null}, "strokeDash": {"field": "k", "type": "nominal", "scale": {"domain": ["dot","dash","dashdot"], "range": [[1.5,2],[5,3],[5,2,1.5,2]]}}}},
                {"mark": {"type": "line", "strokeDash": [1.5, 2], "strokeWidth": 1}, "encoding": {"x": {"field": "day", "type": "quantitative", "axis": null}, "y": {"field": "val", "type": "quantitative", "axis": null}, "color": {"field": "s", "type": "nominal", "scale": {"domain": ["777","630","557","band1","band2","band3"], "range": ["#9c1f4f","#e41f26","#2e9a3e","#8fd3f3","#f4a3e4","#d4d4d4"]}}}},
                {"mark": {"type": "line", "strokeWidth": 1.2}, "encoding": {
                  "x": {"field": "day", "type": "quantitative", "scale": {"domain": [0, 25], "nice": false}, "axis": {"orient": "bottom", "values": [0,1,2,3,4,5,6,7,8,9,10,11,12,13,14,15,16,17,18,19,20,21,22,23,24,25], "tickSize": {"condition": {"test": "datum.value % 5 === 0", "value": -5}, "value": -2.5}, "title": null}},
                  "y": {"field": "val", "type": "quantitative", "scale": {"domain": [0, 1], "nice": false}, "axis": {"orient": "left", "values": [0,0.1,0.2,0.3,0.4,0.5,0.6,0.7,0.8,0.9,1], "tickSize": {"condition": {"test": "round(datum.value*10) % 2 === 0", "value": -5}, "value": -2.5}, "title": null}},
                  "color": {"field": "s", "type": "nominal", "scale": {"domain": ["777","630","557","band1","band2","band3"], "range": ["#9c1f4f","#e41f26","#2e9a3e","#8fd3f3","#f4a3e4","#d4d4d4"]}},
                  "detail": {"field": "g", "type": "nominal"}}},
                {"mark": {"type": "point", "filled": true, "size": 26, "opacity": 1}, "encoding": {
                  "x": {"field": "day", "type": "quantitative", "axis": {"orient": "top", "values": [0,1,2,3,4,5,6,7,8,9,10,11,12,13,14,15,16,17,18,19,20,21,22,23,24,25], "tickSize": {"condition": {"test": "datum.value % 5 === 0", "value": -5}, "value": -2.5}, "title": null}},
                  "y": {"field": "val", "type": "quantitative", "axis": {"orient": "right", "values": [0,0.1,0.2,0.3,0.4,0.5,0.6,0.7,0.8,0.9,1], "tickSize": {"condition": {"test": "round(datum.value*10) % 2 === 0", "value": -5}, "value": -2.5}, "title": null}},
                  "color": {"field": "s", "type": "nominal", "scale": {"domain": ["777","630","557","band1","band2","band3"], "range": ["#9c1f4f","#e41f26","#2e9a3e","#8fd3f3","#f4a3e4","#d4d4d4"]}},
                  "shape": {"field": "s", "type": "nominal", "scale": {"domain": ["777","630","557"], "range": ["M-1,-0.7L-0.7,-1L0,-0.3L0.7,-1L1,-0.7L0.3,0L1,0.7L0.7,1L0,0.3L-0.7,1L-1,0.7L-0.3,0Z", "circle", "M-1,-0.7L-0.7,-1L0,-0.3L0.7,-1L1,-0.7L0.3,0L1,0.7L0.7,1L0,0.3L-0.7,1L-1,0.7L-0.3,0Z M-0.22,-1L0.22,-1L0.22,1L-0.22,1Z"]}}}},
                {"data": {"values": [{"day": 0.4, "val": 0.38, "txt": "(q)"}]}, "mark": {"type": "text", "align": "left", "fontSize": 11.5, "color": "#222222"}, "encoding": {"x": {"field": "day", "type": "quantitative", "axis": null}, "y": {"field": "val", "type": "quantitative", "axis": null}, "text": {"field": "txt"}}}
              ],
              "resolve": {"axis": {"x": "independent", "y": "independent"}}
            },
            {
              "width": 157, "height": 91,
              "data": {"values": [
                {"day":1.5,"val":0.77,"s":"557","g":1},{"day":2.5,"val":0.44,"s":"557","g":1},{"day":3.6,"val":0.68,"s":"557","g":1},{"day":4.6,"val":1.0,"s":"557","g":1},{"day":5.6,"val":0.6,"s":"557","g":1},{"day":8.6,"val":0.38,"s":"557","g":2},{"day":9.6,"val":0.55,"s":"557","g":2},{"day":10.6,"val":0.85,"s":"557","g":2},{"day":12.6,"val":0.65,"s":"557","g":3},{"day":17.6,"val":0.77,"s":"557","g":4},{"day":18.6,"val":0.85,"s":"557","g":4},{"day":19.6,"val":0.65,"s":"557","g":4},{"day":20.6,"val":0.58,"s":"557","g":4},{"day":21.6,"val":0.55,"s":"557","g":4},{"day":22.6,"val":0.55,"s":"557","g":4},{"day":23.6,"val":0.52,"s":"557","g":4},{"day":24.6,"val":0.38,"s":"557","g":4},
                {"day":1.5,"val":0.6,"s":"777","g":1},{"day":2.5,"val":0.45,"s":"777","g":1},{"day":3.6,"val":0.62,"s":"777","g":1},{"day":4.6,"val":0.8,"s":"777","g":1},{"day":5.6,"val":0.62,"s":"777","g":1},{"day":8.6,"val":0.32,"s":"777","g":2},{"day":9.6,"val":0.52,"s":"777","g":2},{"day":10.6,"val":0.85,"s":"777","g":2},{"day":12.6,"val":0.58,"s":"777","g":3},{"day":17.6,"val":0.4,"s":"777","g":4},{"day":18.6,"val":0.78,"s":"777","g":4},{"day":19.6,"val":0.48,"s":"777","g":4},{"day":20.6,"val":0.45,"s":"777","g":4},{"day":21.6,"val":0.5,"s":"777","g":4},{"day":22.6,"val":0.6,"s":"777","g":4},{"day":23.6,"val":0.55,"s":"777","g":4},{"day":24.6,"val":0.28,"s":"777","g":4},
                {"day":1.5,"val":0.57,"s":"630","g":1},{"day":2.5,"val":0.56,"s":"630","g":1},{"day":3.6,"val":0.6,"s":"630","g":1},{"day":4.6,"val":0.67,"s":"630","g":1},{"day":5.6,"val":0.57,"s":"630","g":1},{"day":8.6,"val":0.3,"s":"630","g":2},{"day":9.6,"val":0.33,"s":"630","g":2},{"day":10.6,"val":0.93,"s":"630","g":2},{"day":12.6,"val":0.57,"s":"630","g":3},{"day":17.6,"val":0.48,"s":"630","g":4},{"day":18.6,"val":0.75,"s":"630","g":4},{"day":19.6,"val":0.35,"s":"630","g":4},{"day":20.6,"val":0.35,"s":"630","g":4},{"day":21.6,"val":0.37,"s":"630","g":4},{"day":22.6,"val":0.65,"s":"630","g":4},{"day":23.6,"val":0.5,"s":"630","g":4},{"day":24.6,"val":0.22,"s":"630","g":4}
              ]},
              "layer": [
                {"data": {"values": [{"x0":1.5,"x1":5.6,"y0":0.5,"y1":0.98,"b":"band2"},{"x0":1.5,"x1":5.6,"y0":0.02,"y1":0.5,"b":"band1"},{"x0":20.6,"x1":24.6,"y0":0.02,"y1":0.98,"b":"band2"}]}, "mark": "rect", "encoding": {"x": {"field": "x0", "type": "quantitative", "axis": null}, "x2": {"field": "x1"}, "y": {"field": "y0", "type": "quantitative", "axis": null}, "y2": {"field": "y1"}, "color": {"field": "b", "type": "nominal", "scale": {"domain": ["777","630","557","band1","band2","band3"], "range": ["#9c1f4f","#e41f26","#2e9a3e","#8fd3f3","#f4a3e4","#d4d4d4"]}}}},
                {"data": {"values": [{"day":1.5,"k":"dot"},{"day":2.5,"k":"dot"},{"day":12.6,"k":"dashdot"},{"day":13.6,"k":"dash"},{"day":19.6,"k":"dash"},{"day":23.5,"k":"dot"}]}, "mark": {"type": "rule", "color": "#222222", "strokeWidth": 0.9}, "encoding": {"x": {"field": "day", "type": "quantitative", "axis": null}, "strokeDash": {"field": "k", "type": "nominal", "scale": {"domain": ["dot","dash","dashdot"], "range": [[1.5,2],[5,3],[5,2,1.5,2]]}}}},
                {"mark": {"type": "line", "strokeDash": [1.5, 2], "strokeWidth": 1}, "encoding": {"x": {"field": "day", "type": "quantitative", "axis": null}, "y": {"field": "val", "type": "quantitative", "axis": null}, "color": {"field": "s", "type": "nominal", "scale": {"domain": ["777","630","557","band1","band2","band3"], "range": ["#9c1f4f","#e41f26","#2e9a3e","#8fd3f3","#f4a3e4","#d4d4d4"]}}}},
                {"mark": {"type": "line", "strokeWidth": 1.2}, "encoding": {
                  "x": {"field": "day", "type": "quantitative", "scale": {"domain": [0, 25], "nice": false}, "axis": {"orient": "bottom", "values": [0,1,2,3,4,5,6,7,8,9,10,11,12,13,14,15,16,17,18,19,20,21,22,23,24,25], "tickSize": {"condition": {"test": "datum.value % 5 === 0", "value": -5}, "value": -2.5}, "title": null}},
                  "y": {"field": "val", "type": "quantitative", "scale": {"domain": [0, 1], "nice": false}, "axis": {"orient": "left", "values": [0,0.1,0.2,0.3,0.4,0.5,0.6,0.7,0.8,0.9,1], "tickSize": {"condition": {"test": "round(datum.value*10) % 2 === 0", "value": -5}, "value": -2.5}, "title": null}},
                  "color": {"field": "s", "type": "nominal", "scale": {"domain": ["777","630","557","band1","band2","band3"], "range": ["#9c1f4f","#e41f26","#2e9a3e","#8fd3f3","#f4a3e4","#d4d4d4"]}},
                  "detail": {"field": "g", "type": "nominal"}}},
                {"mark": {"type": "point", "filled": true, "size": 26, "opacity": 1}, "encoding": {
                  "x": {"field": "day", "type": "quantitative", "axis": {"orient": "top", "values": [0,1,2,3,4,5,6,7,8,9,10,11,12,13,14,15,16,17,18,19,20,21,22,23,24,25], "tickSize": {"condition": {"test": "datum.value % 5 === 0", "value": -5}, "value": -2.5}, "title": null}},
                  "y": {"field": "val", "type": "quantitative", "axis": {"orient": "right", "values": [0,0.1,0.2,0.3,0.4,0.5,0.6,0.7,0.8,0.9,1], "tickSize": {"condition": {"test": "round(datum.value*10) % 2 === 0", "value": -5}, "value": -2.5}, "title": null}},
                  "color": {"field": "s", "type": "nominal", "scale": {"domain": ["777","630","557","band1","band2","band3"], "range": ["#9c1f4f","#e41f26","#2e9a3e","#8fd3f3","#f4a3e4","#d4d4d4"]}},
                  "shape": {"field": "s", "type": "nominal", "scale": {"domain": ["777","630","557"], "range": ["M-1,-0.7L-0.7,-1L0,-0.3L0.7,-1L1,-0.7L0.3,0L1,0.7L0.7,1L0,0.3L-0.7,1L-1,0.7L-0.3,0Z", "circle", "M-1,-0.7L-0.7,-1L0,-0.3L0.7,-1L1,-0.7L0.3,0L1,0.7L0.7,1L0,0.3L-0.7,1L-1,0.7L-0.3,0Z M-0.22,-1L0.22,-1L0.22,1L-0.22,1Z"]}}}},
                {"data": {"values": [{"day": 0.4, "val": 0.37, "txt": "(r)"}]}, "mark": {"type": "text", "align": "left", "fontSize": 11.5, "color": "#222222"}, "encoding": {"x": {"field": "day", "type": "quantitative", "axis": null}, "y": {"field": "val", "type": "quantitative", "axis": null}, "text": {"field": "txt"}}}
              ],
              "resolve": {"axis": {"x": "independent", "y": "independent"}}
            },
            {
              "width": 157, "height": 93, "view": {"stroke": "#c77bc7"},
              "data": {"values": [{"day":1.5,"val":0.632},{"day":2.5,"val":0.608},{"day":3.6,"val":0.62},{"day":4.6,"val":0.628},{"day":5.6,"val":0.608},{"day":6.6,"val":0.608},{"day":7.6,"val":0.64},{"day":8.6,"val":0.62},{"day":9.6,"val":0.608},{"day":10.6,"val":0.608},{"day":11.6,"val":0.628},{"day":12.6,"val":0.664},{"day":13.6,"val":0.662},{"day":14.6,"val":0.674},{"day":15.6,"val":0.632},{"day":16.6,"val":0.616},{"day":17.6,"val":0.628},{"day":18.6,"val":0.628},{"day":19.6,"val":0.638},{"day":20.6,"val":0.65},{"day":21.6,"val":0.59},{"day":22.6,"val":0.608},{"day":23.6,"val":0.524},{"day":24.6,"val":0.536}]},
              "layer": [
                {"data": {"values": [{"x0":1.5,"x1":5.6,"y0":0.47,"y1":0.74,"b":"band2"},{"x0":20.6,"x1":24.6,"y0":0.47,"y1":0.74,"b":"band2"}]}, "mark": "rect", "encoding": {"x": {"field": "x0", "type": "quantitative", "axis": null}, "x2": {"field": "x1"}, "y": {"field": "y0", "type": "quantitative", "axis": null}, "y2": {"field": "y1"}, "color": {"field": "b", "type": "nominal", "scale": {"domain": ["777","630","557","band1","band2","band3"], "range": ["#9c1f4f","#e41f26","#2e9a3e","#8fd3f3","#f4a3e4","#d4d4d4"]}}}},
                {"data": {"values": [{"day":1.5,"k":"dot"},{"day":2.5,"k":"dot"},{"day":12.6,"k":"dashdot"},{"day":13.6,"k":"dash"},{"day":19.6,"k":"dash"},{"day":23.5,"k":"dot"}]}, "mark": {"type": "rule", "color": "#222222", "strokeWidth": 0.9}, "encoding": {"x": {"field": "day", "type": "quantitative", "axis": null}, "strokeDash": {"field": "k", "type": "nominal", "scale": {"domain": ["dot","dash","dashdot"], "range": [[1.5,2],[5,3],[5,2,1.5,2]]}}}},
                {"mark": {"type": "line", "color": "#c43ec8", "strokeWidth": 1.1}, "encoding": {
                  "x": {"field": "day", "type": "quantitative", "scale": {"domain": [0, 25], "nice": false}, "axis": {"orient": "bottom", "values": [0,1,2,3,4,5,6,7,8,9,10,11,12,13,14,15,16,17,18,19,20,21,22,23,24,25], "tickSize": {"condition": {"test": "datum.value % 5 === 0", "value": -5}, "value": -2.5}, "tickColor": "#b45ab4", "title": null}},
                  "y": {"field": "val", "type": "quantitative", "scale": {"domain": [0.45, 0.75], "nice": false}, "axis": {"orient": "left", "values": [0.45,0.5,0.55,0.6,0.65,0.7,0.75], "tickSize": {"condition": {"test": "round(datum.value*100) % 10 === 5", "value": -5}, "value": -2.5}, "tickColor": "#b45ab4", "title": null}}}},
                {"mark": {"type": "point", "shape": "circle", "filled": true, "color": "#c43ec8", "size": 28, "opacity": 1}, "encoding": {
                  "x": {"field": "day", "type": "quantitative", "axis": {"orient": "top", "values": [0,1,2,3,4,5,6,7,8,9,10,11,12,13,14,15,16,17,18,19,20,21,22,23,24,25], "tickSize": {"condition": {"test": "datum.value % 5 === 0", "value": -5}, "value": -2.5}, "tickColor": "#b45ab4", "title": null}},
                  "y": {"field": "val", "type": "quantitative", "axis": {"orient": "right", "values": [0.45,0.5,0.55,0.6,0.65,0.7,0.75], "tickSize": {"condition": {"test": "round(datum.value*100) % 10 === 5", "value": -5}, "value": -2.5}, "tickColor": "#b45ab4", "title": null}}}},
                {"data": {"values": [{"day": 0.4, "val": 0.725, "txt": "(s)"}]}, "mark": {"type": "text", "align": "left", "fontSize": 11.5, "color": "#222222"}, "encoding": {"x": {"field": "day", "type": "quantitative", "axis": null}, "y": {"field": "val", "type": "quantitative", "axis": null}, "text": {"field": "txt"}}}
              ],
              "resolve": {"axis": {"x": "independent", "y": "independent"}}
            },
            {
              "width": 157, "height": 90, "view": {"stroke": "#6f9468"},
              "layer": [
                {"data": {"values": [{"x0":1.5,"x1":5.6,"y0":8,"y1":93,"b":"band1"}]}, "mark": "rect", "encoding": {"x": {"field": "x0", "type": "quantitative", "axis": null}, "x2": {"field": "x1"}, "y": {"field": "y0", "type": "quantitative", "scale": {"domain": [0, 100], "nice": false}, "axis": null}, "y2": {"field": "y1"}, "color": {"field": "b", "type": "nominal", "scale": {"domain": ["777","630","557","band1","band2","band3"], "range": ["#9c1f4f","#e41f26","#2e9a3e","#8fd3f3","#f4a3e4","#d4d4d4"]}}}},
                {"data": {"values": [{"day":1.5,"k":"dot"},{"day":2.5,"k":"dot"},{"day":12.6,"k":"dashdot"},{"day":13.6,"k":"dash"},{"day":19.6,"k":"dash"},{"day":23.5,"k":"dot"}]}, "mark": {"type": "rule", "color": "#222222", "strokeWidth": 0.9}, "encoding": {"x": {"field": "day", "type": "quantitative", "axis": null}, "strokeDash": {"field": "k", "type": "nominal", "scale": {"domain": ["dot","dash","dashdot"], "range": [[1.5,2],[5,3],[5,2,1.5,2]]}}}},
                {"data": {"values": [{"day":1.5,"val":58,"g":1},{"day":2.5,"val":57,"g":1},{"day":3.6,"val":48,"g":1},{"day":4.6,"val":53,"g":1},{"day":5.6,"val":53,"g":1},{"day":6.6,"val":55,"g":1},{"day":7.6,"val":66,"g":1},{"day":8.6,"val":63,"g":1},{"day":9.6,"val":55,"g":1},{"day":10.6,"val":69,"g":1},{"day":11.6,"val":55,"g":1},{"day":12.6,"val":62,"g":1},{"day":13.6,"val":59,"g":1},{"day":14.6,"val":69,"g":1},{"day":15.6,"val":71,"g":1},{"day":16.6,"val":62,"g":1},{"day":17.6,"val":63,"g":1},{"day":18.6,"val":55,"g":1},{"day":19.6,"val":54,"g":1},{"day":20.6,"val":64,"g":1},{"day":21.6,"val":52,"g":1},{"day":22.6,"val":45,"g":1},{"day":23.6,"val":44,"g":1},{"day":24.6,"val":41,"g":1}]}, "mark": {"type": "line", "color": "#5db946", "strokeWidth": 1.1}, "encoding": {"x": {"field": "day", "type": "quantitative", "axis": null}, "y": {"field": "val", "type": "quantitative", "scale": {"domain": [0, 83], "nice": false}, "axis": null}, "detail": {"field": "g", "type": "nominal"}}},
                {"data": {"values": [{"day":1.5,"val":58,"g":1},{"day":2.5,"val":57,"g":1},{"day":3.6,"val":48,"g":1},{"day":4.6,"val":53,"g":1},{"day":5.6,"val":53,"g":1},{"day":6.6,"val":55,"g":1},{"day":7.6,"val":66,"g":1},{"day":8.6,"val":63,"g":1},{"day":9.6,"val":55,"g":1},{"day":10.6,"val":69,"g":1},{"day":11.6,"val":55,"g":1},{"day":12.6,"val":62,"g":1},{"day":13.6,"val":59,"g":1},{"day":14.6,"val":69,"g":1},{"day":15.6,"val":71,"g":1},{"day":16.6,"val":62,"g":1},{"day":17.6,"val":63,"g":1},{"day":18.6,"val":55,"g":1},{"day":19.6,"val":54,"g":1},{"day":20.6,"val":64,"g":1},{"day":21.6,"val":52,"g":1},{"day":22.6,"val":45,"g":1},{"day":23.6,"val":44,"g":1},{"day":24.6,"val":41,"g":1}]}, "mark": {"type": "point", "shape": "triangle-down", "filled": true, "color": "#5db946", "size": 30, "opacity": 1}, "encoding": {
                  "x": {"field": "day", "type": "quantitative", "axis": {"orient": "top", "values": [0,1,2,3,4,5,6,7,8,9,10,11,12,13,14,15,16,17,18,19,20,21,22,23,24,25], "tickSize": {"condition": {"test": "datum.value % 5 === 0", "value": -5}, "value": -2.5}, "title": null}},
                  "y": {"field": "val", "type": "quantitative", "scale": {"domain": [0, 83], "nice": false}, "axis": {"orient": "right", "values": [0,10,20,30,40,50,60,70,80], "tickSize": {"condition": {"test": "datum.value % 20 === 0", "value": -5}, "value": -2.5}, "labels": true, "labelExpr": "datum.value % 20 === 0 ? datum.label : ''", "labelColor": "#5db946", "titleColor": "#5db946", "titleAngle": -90, "titleBaseline": "top", "titleFont": "DejaVu Sans", "titleFontSize": 10.5, "titlePadding": 2, "title": "Peak IEC (10¹⁶m⁻²)"}}}},
                {"data": {"values": [{"day":1.5,"val":57},{"day":2.5,"val":73},{"day":3.6,"val":20},{"day":4.6,"val":42},{"day":5.6,"val":35},{"day":6.6,"val":42},{"day":7.6,"val":73},{"day":8.6,"val":54},{"day":9.6,"val":20},{"day":10.6,"val":45},{"day":11.6,"val":20},{"day":12.6,"val":25},{"day":13.6,"val":37},{"day":14.6,"val":42},{"day":15.6,"val":64},{"day":16.6,"val":10},{"day":17.6,"val":52},{"day":18.6,"val":42},{"day":19.6,"val":51},{"day":20.6,"val":52},{"day":21.6,"val":65},{"day":22.6,"val":52},{"day":23.6,"val":48},{"day":24.6,"val":39}]}, "mark": {"type": "line", "color": "#1f1f9e", "strokeWidth": 1.1}, "encoding": {
                  "x": {"field": "day", "type": "quantitative", "scale": {"domain": [0, 25], "nice": false}, "axis": {"orient": "bottom", "values": [0,1,2,3,4,5,6,7,8,9,10,11,12,13,14,15,16,17,18,19,20,21,22,23,24,25], "tickSize": {"condition": {"test": "datum.value % 5 === 0", "value": -5}, "value": -2.5}, "labels": true, "labelExpr": "datum.value % 5 === 0 ? datum.label : ''", "title": null}},
                  "y": {"field": "val", "type": "quantitative", "scale": {"domain": [0, 100], "nice": false}, "axis": {"orient": "left", "values": [0,10,20,30,40,50,60,70,80,90,100], "tickSize": {"condition": {"test": "datum.value % 20 === 0", "value": -5}, "value": -2.5}, "title": null}}}},
                {"data": {"values": [{"day":1.5,"val":57},{"day":2.5,"val":73},{"day":3.6,"val":20},{"day":4.6,"val":42},{"day":5.6,"val":35},{"day":6.6,"val":42},{"day":7.6,"val":73},{"day":8.6,"val":54},{"day":9.6,"val":20},{"day":10.6,"val":45},{"day":11.6,"val":20},{"day":12.6,"val":25},{"day":13.6,"val":37},{"day":14.6,"val":42},{"day":15.6,"val":64},{"day":16.6,"val":10},{"day":17.6,"val":52},{"day":18.6,"val":42},{"day":19.6,"val":51},{"day":20.6,"val":52},{"day":21.6,"val":65},{"day":22.6,"val":52},{"day":23.6,"val":48},{"day":24.6,"val":39}]}, "mark": {"type": "point", "shape": "triangle-up", "filled": true, "color": "#1f1f9e", "size": 30, "opacity": 1}, "encoding": {"x": {"field": "day", "type": "quantitative", "axis": null}, "y": {"field": "val", "type": "quantitative", "scale": {"domain": [0, 100], "nice": false}, "axis": null}}},
                {"data": {"values": [{"day": 0.4, "val": 91, "txt": "(t)"}]}, "mark": {"type": "text", "align": "left", "fontSize": 11.5, "color": "#222222"}, "encoding": {"x": {"field": "day", "type": "quantitative", "axis": null}, "y": {"field": "val", "type": "quantitative", "scale": {"domain": [0, 100], "nice": false}, "axis": null}, "text": {"field": "txt"}}}
              ],
              "resolve": {"scale": {"y": "independent"}, "axis": {"x": "independent", "y": "independent"}}
            }
          ]
        }
      ]
    }
  ]
}
